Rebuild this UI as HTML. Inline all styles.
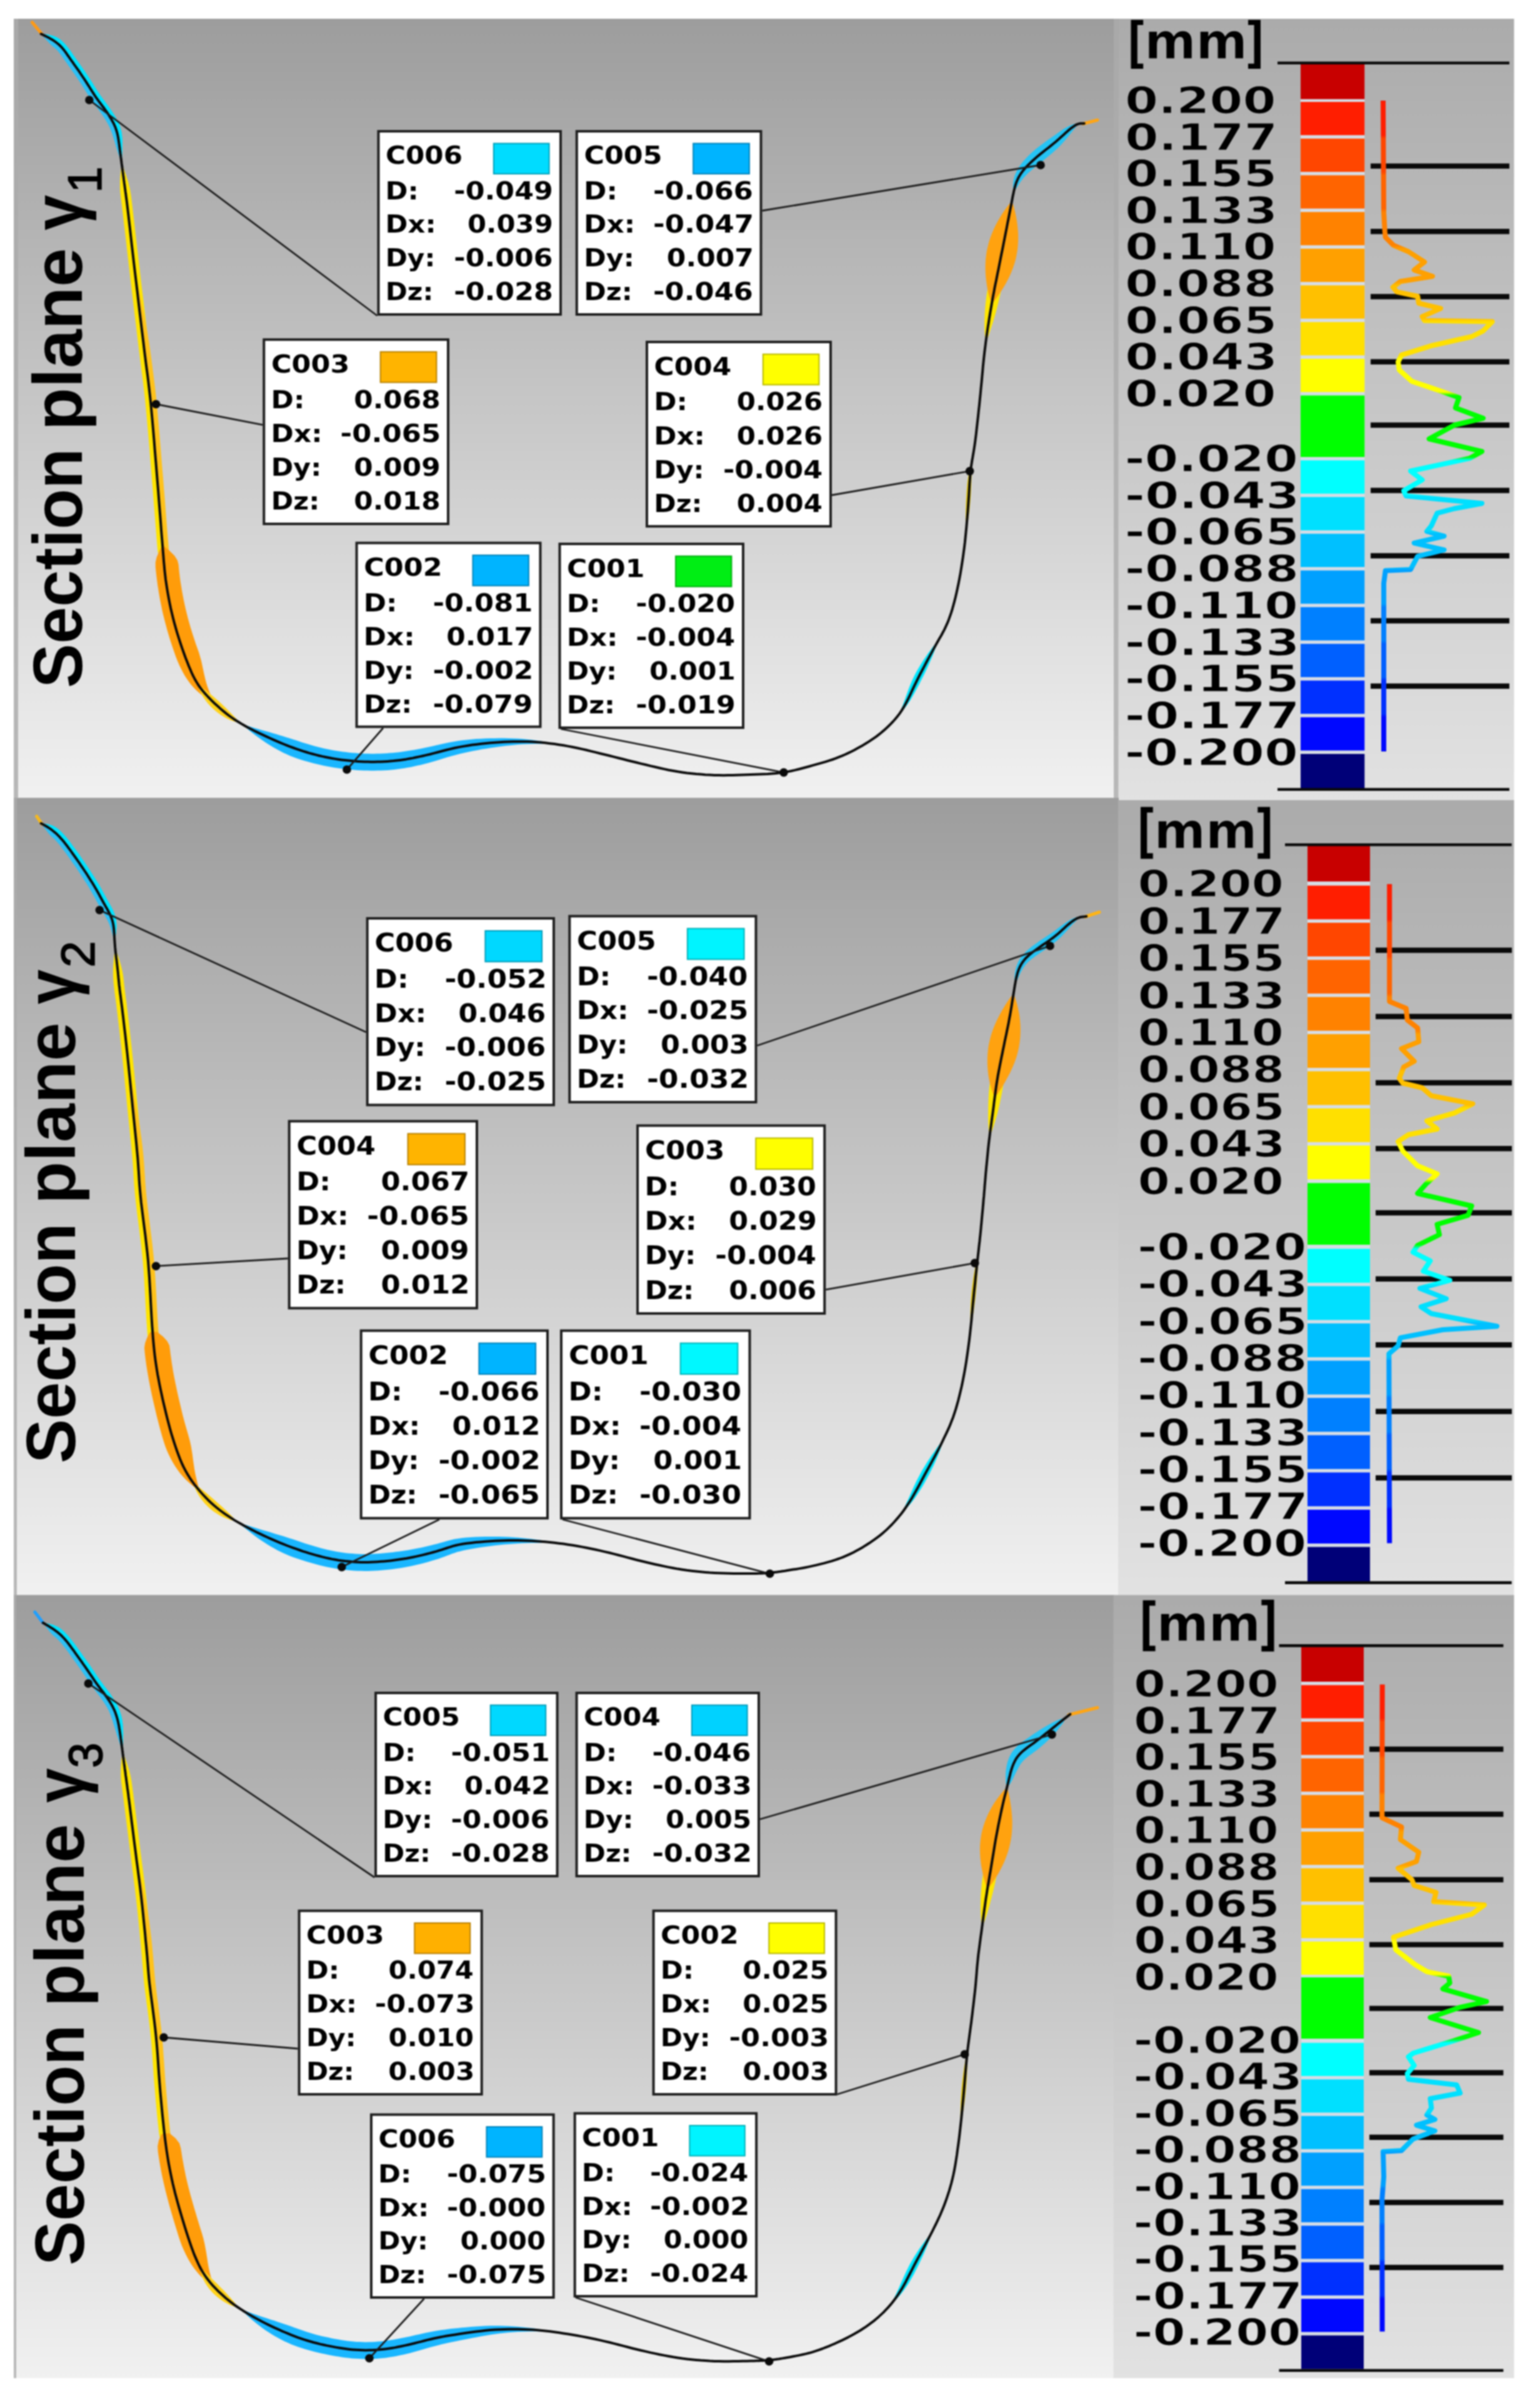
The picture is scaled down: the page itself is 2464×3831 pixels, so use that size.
<!DOCTYPE html><html><head><meta charset="utf-8"><title>Section planes</title>
<style>html,body{margin:0;padding:0;background:#fff}svg{display:block;filter:blur(0.9px)}text{font-weight:bold}.v{font-family:"DejaVu Sans","Liberation Sans",sans-serif}.t{font-family:"Liberation Sans","DejaVu Sans",sans-serif}</style></head><body>
<svg width="2464" height="3831" viewBox="0 0 2464 3831">
<defs>
<linearGradient id="gm" x1="0" y1="0" x2="0" y2="1"><stop offset="0" stop-color="#9d9d9d"/><stop offset="1" stop-color="#f1f1f1"/></linearGradient>
<linearGradient id="gl" x1="0" y1="0" x2="0" y2="1"><stop offset="0" stop-color="#ababab"/><stop offset="1" stop-color="#e2e2e2"/></linearGradient>
</defs>
<rect width="2464" height="3831" fill="#fff"/>
<linearGradient id="gs" x1="0" y1="0" x2="0" y2="1"><stop offset="0" stop-color="#a9a9a9"/><stop offset="1" stop-color="#b8b8b8"/></linearGradient>
<linearGradient id="gu0" gradientUnits="userSpaceOnUse" x1="0" y1="30" x2="0" y2="1279.8"><stop offset="0" stop-color="#ababab"/><stop offset="1" stop-color="#e2e2e2"/></linearGradient>
<linearGradient id="gu1" gradientUnits="userSpaceOnUse" x1="0" y1="1279.8" x2="0" y2="2551.3"><stop offset="0" stop-color="#ababab"/><stop offset="1" stop-color="#e2e2e2"/></linearGradient>
<linearGradient id="gu2" gradientUnits="userSpaceOnUse" x1="0" y1="2551.3" x2="0" y2="3804"><stop offset="0" stop-color="#ababab"/><stop offset="1" stop-color="#e2e2e2"/></linearGradient>
<rect x="22" y="30" width="1768.5" height="1246.2" fill="url(#gm)"/>
<rect x="1789.5" y="30" width="633" height="1249.8" fill="url(#gl)"/>
<rect x="22" y="30" width="7" height="1246.2" fill="url(#gs)"/>
<rect x="1782" y="30" width="7.5" height="1249.8" fill="url(#gs)"/>
<rect x="22" y="1276.2" width="1768" height="1275.1" fill="url(#gm)"/>
<rect x="1789" y="1279.8" width="633.5" height="1271.5" fill="url(#gl)"/>
<rect x="22" y="1276.2" width="5" height="1275.1" fill="url(#gs)"/>
<rect x="22" y="2551.3" width="1760.5" height="1252.7" fill="url(#gm)"/>
<rect x="1781.5" y="2551.3" width="641" height="1252.7" fill="url(#gl)"/>
<rect x="22" y="2551.3" width="4" height="1252.7" fill="url(#gs)"/>
<polygon points="65.7,54.3 67.3,54.4 69.4,54.6 72,54.8 74.9,55.1 77.9,55.6 80.8,56.2 83.7,56.9 86.2,57.7 88.4,58.7 90.4,59.6 92.3,60.6 94.2,61.7 96.1,63.1 97.9,64.6 99.8,66.2 101.8,68.2 103.9,70.3 106,72.7 108,75.3 110.1,77.9 112.1,80.6 114,83.3 115.8,86 117.6,88.6 119.4,91 121.1,93.5 122.9,96 124.6,98.5 126.4,101 128.2,103.5 130,106.1 131.8,108.7 133.6,111.3 135.4,113.9 137.3,116.6 139.1,119.3 140.9,122 142.7,124.8 144.5,127.5 146.3,130.3 148.1,133.1 149.9,136 151.7,138.9 153.5,141.8 155.3,144.7 157.1,147.4 158.9,150.1 160.7,152.7 162.4,155 164.1,157.4 165.7,159.6 167.4,161.9 169.2,164.2 170.9,166.5 172.7,168.9 174.5,171.4 176.5,174.2 178.5,177.2 180.5,180.3 182.5,183.4 184.4,186.6 186.2,189.7 187.8,192.8 189.3,195.7 190.4,198.2 191.4,200.7 192.2,203 192.9,205.1 193.5,207.3 194,209.5 194.5,211.8 194.9,214.3 195.2,216.9 195.5,219.7 195.7,222.5 195.8,225.3 195.8,228.1 195.8,231 195.8,233.8 195.7,236.5 195.6,239.3 195.5,242 195.4,244.8 195.3,247.5 195.2,250.3 195.1,253 194.9,255.8 194.8,258.6 194.6,261.3 194.6,261.3 193.7,258.7 192.8,256.1 191.9,253.5 191,250.8 190.1,248.2 189.2,245.6 188.3,243 187.5,240.3 186.6,237.7 185.8,235 185.1,232.4 184.3,229.7 183.5,227.1 182.8,224.5 182.1,222 181.3,219.6 180.6,217.4 180,215.4 179.3,213.5 178.7,211.8 178,210 177.4,208.4 176.6,206.5 175.7,204.6 174.8,202.5 173.6,200.1 172.2,197.5 170.6,194.7 168.9,191.8 167.1,188.9 165.2,186.1 163.3,183.3 161.5,180.7 159.7,178.3 158.1,176 156.4,173.8 154.7,171.5 152.9,169.2 151.2,166.9 149.4,164.4 147.6,161.8 145.7,159.1 143.8,156.2 141.9,153.3 140,150.4 138.2,147.4 136.3,144.5 134.5,141.7 132.8,138.9 131,136.2 129.3,133.5 127.5,130.8 125.8,128.2 124,125.6 122.2,122.9 120.4,120.4 118.7,117.8 116.9,115.2 115.1,112.7 113.4,110.2 111.6,107.7 109.8,105.3 108.1,102.8 106.3,100.3 104.5,97.7 102.7,95.2 100.9,92.6 99.1,90 97.3,87.5 95.5,85.2 93.7,83 92.1,81.1 90.5,79.5 89,78 87.6,76.8 86.1,75.6 84.8,74.5 83.5,73.4 82.1,72.1 80.6,70.7 79.2,69.3 77.6,67.6 75.7,65.6 73.8,63.5 71.8,61.3 69.9,59.2 68.2,57.2 66.8,55.5 65.7,54.3" fill="#2cc0f5"/>
<polygon points="65.7,54.3 67.3,54.4 69.4,54.6 72,54.8 74.9,55.1 77.9,55.6 80.8,56.2 83.7,56.9 86.2,57.7 88.4,58.7 90.4,59.6 92.3,60.6 94.2,61.7 96.1,63.1 97.9,64.6 99.8,66.2 101.8,68.2 103.9,70.3 106,72.7 108,75.3 110.1,77.9 112.1,80.6 114,83.3 115.8,86 117.6,88.6 119.4,91 121.1,93.5 122.9,96 124.6,98.5 126.4,101 128.2,103.5 130,106.1 131.8,108.7 133.6,111.3 135.4,113.9 137.3,116.6 139.1,119.3 140.9,122 142.7,124.8 144.5,127.5 146.3,130.3 148.1,133.1 149.9,136 151.7,138.9 153.5,141.8 155.3,144.7 157.1,147.4 158.9,150.1 160.7,152.7 162.4,155 164.1,157.4 165.7,159.6 167.4,161.9 169.2,164.2 170.9,166.5 172.7,168.9 174.5,171.4 176.5,174.2 178.5,177.2 180.5,180.3 182.5,183.4 184.4,186.6 186.2,189.7 187.8,192.8 189.3,195.7 190.4,198.2 191.4,200.7 192.2,203 192.9,205.1 193.5,207.3 194,209.5 194.5,211.8 194.9,214.3 195.2,216.9 195.5,219.7 195.7,222.5 195.8,225.3 195.8,228.1 195.8,231 195.8,233.8 195.7,236.5 195.6,239.3 195.5,242 195.4,244.8 195.3,247.5 195.2,250.3 195.1,253 194.9,255.8 194.8,258.6 194.6,261.3 194.6,261.3 194.3,258.6 193.9,255.9 193.6,253.2 193.2,250.5 192.9,247.8 192.5,245.2 192.2,242.5 191.8,239.8 191.5,237.1 191.1,234.4 190.8,231.6 190.4,228.9 190,226.1 189.6,223.4 189.2,220.8 188.7,218.2 188.2,215.8 187.7,213.5 187.1,211.4 186.5,209.4 185.9,207.4 185.2,205.5 184.5,203.4 183.5,201.2 182.5,198.9 181.2,196.2 179.6,193.4 178,190.4 176.1,187.4 174.2,184.3 172.3,181.3 170.3,178.5 168.4,175.8 166.6,173.3 164.9,171 163.2,168.7 161.5,166.4 159.7,164.1 158,161.8 156.3,159.4 154.5,157 152.7,154.3 150.9,151.6 149,148.7 147.2,145.8 145.3,142.9 143.5,140 141.7,137.2 139.9,134.4 138.2,131.6 136.4,128.9 134.6,126.2 132.8,123.5 131,120.8 129.2,118.2 127.5,115.5 125.7,112.9 123.9,110.4 122.1,107.8 120.3,105.3 118.5,102.8 116.8,100.3 115,97.9 113.2,95.4 111.5,92.9 109.7,90.3 107.8,87.7 106,85 104.1,82.4 102.2,79.9 100.2,77.5 98.4,75.4 96.5,73.5 94.7,71.8 93.1,70.3 91.4,69 89.8,67.7 88.2,66.6 86.5,65.4 84.8,64.3 82.9,63.1 80.8,61.9 78.4,60.6 76,59.3 73.4,58 71.1,56.9 68.9,55.8 67,54.9 65.7,54.3" fill="#00e4ff"/>
<polygon points="194.6,261.3 195.6,263.9 196.6,266.5 197.6,269.1 198.6,271.7 199.5,274.3 200.5,276.8 201.4,279.5 202.2,282 203,284.4 203.8,286.8 204.5,289.3 205.3,291.8 206,294.5 206.7,297.4 207.4,300.4 208.1,303.3 208.5,305.7 208.9,308 209.3,310.5 209.8,313.8 210.3,317.9 211,323.5 211.9,331 213,340.4 214.3,351.5 215.7,363.6 217.2,377.1 218.9,391.4 220.6,405.9 222.3,420.6 224,435.1 225.7,449.9 227.6,465.8 229.6,482.3 231.6,498.9 233.6,515.4 235.5,531.3 237.3,546.4 239,560.2 240.4,572 241.8,582.4 243,591.9 244.2,601 245.3,610.1 246.5,619.6 247.7,630.2 248.9,642 250.3,655.9 251.6,671 253,686.9 254.4,703.5 255.8,720.1 257.2,736.6 258.5,752.5 259.7,767.3 260.8,781.6 262,795.8 263.1,809.9 264.1,823.5 265.1,836.4 266.1,848.8 267.1,860.4 268,871.4 268.7,881.1 268.5,889.9 267.2,897.8 265.4,905.3 263.4,912.6 263.4,912.6 260,905.8 256.8,898.7 254.1,891.1 252.4,882.5 251.5,872.7 250.6,861.8 249.7,850.1 248.7,837.7 247.7,824.8 246.6,811.2 245.5,797.1 244.4,782.9 243.2,768.7 242,753.8 240.7,737.9 239.4,721.5 238,704.8 236.6,688.4 235.2,672.5 233.8,657.4 232.5,643.7 231.3,631.9 230.1,621.6 229,612.1 227.8,603.1 226.6,594 225.4,584.5 224.1,574 222.6,562.2 220.9,548.4 219.1,533.3 217.2,517.4 215.2,500.9 213.2,484.2 211.2,467.8 209.3,451.8 207.6,437 205.9,422.5 204.2,407.8 202.5,393.2 200.9,378.9 199.3,365.5 197.9,353.4 196.6,342.3 195.5,333 194.6,325.5 193.9,320 193.4,315.9 193,312.7 192.7,310.2 192.5,307.9 192.3,305.4 192.1,302.5 192,299.4 192,296.4 192,293.7 192,291 192.1,288.4 192.2,285.9 192.4,283.3 192.6,280.6 192.8,277.9 193.1,275.1 193.4,272.4 193.7,269.6 194,266.8 194.3,264.1 194.6,261.3" fill="#ffe400"/>
<polygon points="216,436 219.3,450.7 222.8,466.4 226.3,482.7 229.7,499.2 232.9,515.5 235.8,531.3 238.2,546.3 240.3,560 241.9,571.8 243.3,582.2 244.5,591.7 245.7,600.8 246.8,609.9 248,619.5 249.2,630 250.4,641.9 251.8,655.7 253.1,670.9 254.5,686.8 255.9,703.3 257.3,720 258.6,736.5 259.9,752.4 261.2,767.2 262.3,781.5 263.5,795.7 264.6,809.8 265.6,823.4 266.6,836.3 267.6,848.7 268.6,860.3 269.5,871.2 270.3,881 270.9,889.7 269.8,897.6 267,905.2 263.4,912.6 263.4,912.6 262.8,905.6 262.1,898.3 261.5,890.5 260.8,881.8 260,872 259.1,861.1 258.1,849.4 257.2,837 256.2,824.1 255.1,810.5 254,796.4 252.9,782.2 251.7,768 250.5,753.1 249.2,737.2 247.8,720.8 246.5,704.1 245.1,687.6 243.7,671.7 242.3,656.6 241,642.8 239.7,631 238.5,620.6 237.4,611.1 236.3,602 235.1,592.9 233.8,583.4 232.5,573 231,561.2 229.4,547.4 227.5,532.3 225.6,516.4 223.6,499.9 221.6,483.2 219.7,466.8 217.8,450.8 216,436" fill="#ffc21a"/>
<polygon points="260,872 271.2,880.9 279.3,889 284,896.4 285.7,903.5 286.3,910.3 287,916.8 287.8,923.5 288.8,930.7 290,938.1 291.2,945.5 292.6,952.9 294,960.3 295.6,967.8 297.3,975.2 299.1,982.6 301,990 303.1,997.6 305.4,1005.5 307.9,1013.5 310.5,1021.5 313.1,1029.4 315.8,1036.9 318.3,1044.1 320.3,1050.9 322,1057.1 323.3,1062.8 324.4,1067.9 325.4,1072.8 326.4,1077.5 327.5,1082.3 328.7,1087.2 330.1,1092.5 332,1098.4 334.3,1104.7 337,1111.3 340.1,1118.2 343.2,1125 343.2,1125 337.1,1121.3 330.8,1117.2 324.9,1113.1 319.3,1108.7 314.2,1104.2 309.8,1099.7 305.8,1095.2 302.2,1090.6 298.9,1085.8 295.8,1080.9 292.8,1075.7 289.9,1070.1 286.9,1063.9 283.9,1057 281,1049.5 278.2,1041.5 275.4,1033.2 272.6,1024.7 270,1016.2 267.5,1007.8 265.3,999.6 263.2,991.6 261.2,983.6 259.4,975.7 257.8,967.7 256.2,959.8 254.8,951.9 253.5,944 252.2,936 251.2,928.3 250.3,921.1 249.5,914 248.8,906.8 248.8,899.4 250.6,891.4 254.5,882.3 260,872" fill="#ff9c0a"/>
<polygon points="316.9,1095 322.1,1098.4 327,1102.4 332.2,1106.6 337.4,1110.9 342.8,1115.4 348,1119.9 353,1124.4 357.7,1128.9 361.9,1133 365.7,1136.9 369.3,1140.6 372.7,1144.1 376,1147.6 379.3,1151.1 382.2,1155.3 382.2,1155.3 377,1154.7 372.2,1153.3 367.6,1151.4 362.8,1149.2 358.1,1146.6 353.2,1143.5 348.1,1139.8 342.9,1135.5 337.8,1130.7 332.9,1125.5 328.3,1119.6 324.2,1113.7 320.8,1107.5 318.1,1101.3 316.9,1095" fill="#ffd21a"/>
<polygon points="386.5,1157.9 391.5,1159.6 396.8,1161.3 402.3,1163 408,1164.7 413.6,1166.3 419.3,1167.9 425,1169.5 430.7,1171.1 436.2,1172.7 441.7,1174.3 447.1,1175.9 452.4,1177.5 457.7,1179.2 462.9,1180.8 468.1,1182.4 473.2,1184.1 478.3,1185.7 483.3,1187.4 488.4,1189 493.5,1190.6 498.5,1192.1 503.5,1193.5 508.5,1194.8 513.5,1196.1 518.5,1197.2 523.5,1198.3 528.4,1199.3 533.4,1200.2 538.4,1201 543.4,1201.8 548.3,1202.5 553.4,1203.1 558.4,1203.7 563.4,1204.2 568.5,1204.6 573.5,1205 578.6,1205.3 583.6,1205.5 588.7,1205.6 593.7,1205.7 598.7,1205.7 603.7,1205.6 608.6,1205.5 613.6,1205.2 618.5,1205 623.4,1204.6 628.4,1204.2 633.3,1203.7 638.3,1203.2 643.3,1202.5 648.2,1201.8 653,1201.1 657.9,1200.3 663,1199.4 668.2,1198.4 673.6,1197.4 679.3,1196.2 685.2,1195 691.2,1193.7 697.5,1192.2 704.1,1190.7 710.9,1189.2 717.9,1187.7 725,1186.4 732.1,1185.3 739.3,1184.3 746.7,1183.5 754.1,1182.7 761.5,1182.1 769,1181.7 776.6,1181.3 784,1181 791.5,1180.9 798.9,1180.8 806.3,1180.8 813.8,1181 821.2,1181.2 828.7,1181.6 836.1,1182.1 843.5,1182.7 850.8,1183.5 858.2,1184.5 865.5,1185.6 872.7,1186.8 880,1188.1 887.2,1189.6 894.4,1191.2 894.4,1191.2 887,1190.7 879.7,1190.3 872.4,1190 865.1,1189.8 857.8,1189.8 850.5,1189.9 843.3,1190.2 836,1190.6 828.7,1191.1 821.5,1191.8 814.2,1192.5 807,1193.3 799.7,1194.2 792.6,1195.2 785.4,1196.2 778.1,1197.4 770.9,1198.6 763.8,1199.9 756.6,1201.2 749.6,1202.7 742.8,1204.2 736.1,1205.7 729.6,1207.4 723,1209.2 716.5,1211.1 710,1213.1 703.6,1215.1 697.2,1217 691.1,1218.8 685,1220.5 679.1,1222 673.5,1223.4 668.1,1224.6 662.8,1225.8 657.6,1226.9 652.4,1227.8 647.2,1228.7 641.8,1229.6 636.4,1230.3 631,1230.9 625.7,1231.4 620.3,1231.9 615,1232.2 609.6,1232.4 604.3,1232.6 598.9,1232.7 593.5,1232.7 588.1,1232.6 582.6,1232.5 577.2,1232.2 571.8,1231.9 566.4,1231.5 560.9,1231.1 555.5,1230.5 550.2,1229.9 544.8,1229.2 539.4,1228.5 534.1,1227.7 528.7,1226.8 523.3,1225.8 517.9,1224.7 512.6,1223.5 507.2,1222.3 501.8,1221 496.4,1219.5 491,1218 485.6,1216.4 480.2,1214.7 474.8,1212.9 469.4,1211 464.1,1208.9 458.8,1206.6 453.6,1204.2 448.5,1201.6 443.4,1198.8 438.4,1196 433.4,1193 428.5,1189.9 423.6,1186.7 418.6,1183.3 413.7,1179.8 408.8,1176.2 404,1172.6 399.2,1168.8 394.8,1165.1 390.5,1161.4 386.5,1157.9" fill="#19b6ff"/>
<polygon points="1439.2,1141.6 1441.4,1135.8 1443.8,1129.8 1446.2,1123.3 1448.6,1116.5 1451.1,1109.5 1453.7,1102.3 1456.5,1095.2 1459.5,1088.3 1462.6,1081.7 1465.9,1075.3 1469.5,1069 1473.1,1062.9 1477,1056.8 1480.9,1051 1484.8,1045.3 1488.8,1039.9 1492.6,1034.8 1496.5,1030.1 1500.6,1025.8 1500.6,1025.8 1498.8,1031.4 1496.7,1037.1 1494.4,1043 1492,1049.2 1489.3,1055.5 1486.5,1061.9 1483.6,1068.4 1480.5,1074.9 1477.4,1081.3 1474.2,1087.5 1471,1093.9 1467.5,1100.5 1464,1107.1 1460.2,1113.8 1456.3,1120.4 1452.2,1126.5 1448,1132.3 1443.7,1137.3 1439.2,1141.6" fill="#00e6ff"/>
<polygon points="1545.5,851.2 1545.1,843 1545,834.8 1545.1,826.6 1545.2,818.3 1545.4,809.9 1545.7,801.2 1546.2,792.4 1546.8,783.6 1547.5,775 1548.5,766.7 1549.6,758.9 1550.8,751.7 1552.2,745.6 1553.4,740.5 1554.7,736 1556.2,731.9 1556.2,731.9 1555.9,736.2 1555.6,740.9 1555.2,746 1554.9,752.2 1554.6,759.3 1554.3,767.1 1554,775.4 1553.6,784 1553.2,792.8 1552.5,801.7 1551.7,810.4 1550.8,818.8 1549.7,826.9 1548.5,835.1 1547.2,843.1 1545.5,851.2" fill="#e8c800"/>
<polygon points="1577.5,545.3 1576.1,539.2 1575.6,533.3 1575.3,527.3 1575.2,521.2 1575.2,514.9 1575.4,508.7 1575.6,502.4 1576,496.2 1576.5,490 1577.1,483.8 1577.8,477.7 1578.6,471.5 1579.6,465.3 1580.6,459.1 1581.8,453 1583,446.9 1584.4,440.8 1585.8,434.8 1587.3,428.7 1588.9,422.7 1590.5,416.7 1592.3,410.8 1594.1,404.8 1596,398.9 1598,392.9 1600.1,387 1602.3,381.1 1604.7,375.3 1607.3,369.3 1610.9,363.4 1610.9,363.4 1611.9,370.2 1612.1,376.7 1612,383 1611.8,389.3 1611.5,395.6 1611.1,401.9 1610.6,408.1 1610,414.3 1609.3,420.5 1608.5,426.7 1607.6,432.8 1606.7,439 1605.6,445.1 1604.5,451.2 1603.3,457.3 1602.1,463.3 1600.8,469.3 1599.4,475.3 1598,481.3 1596.5,487.3 1595,493.2 1593.4,499.2 1591.8,505.1 1590.1,511 1588.3,516.9 1586.4,522.8 1584.5,528.6 1582.6,534.3 1580.5,539.8 1577.5,545.3" fill="#ffe600"/>
<polygon points="1586.8,485.6 1584.1,478.8 1582.2,472.1 1580.7,465.5 1579.4,458.9 1578.4,452.3 1577.6,445.8 1577,439.3 1576.7,432.9 1576.6,426.6 1576.8,420.3 1577.2,414.1 1577.9,407.9 1578.8,401.8 1580.1,395.7 1581.6,389.7 1583.3,383.7 1585.4,377.8 1587.7,371.9 1590.3,366 1593.2,359.9 1596.4,353.9 1599.9,347.9 1603.5,342 1607.3,336.4 1611,331.2 1614.8,326.4 1618.9,322.1 1618.9,322.1 1621.1,327.6 1622.8,333.5 1624.3,339.7 1625.7,346.4 1626.9,353.1 1627.8,360 1628.5,366.8 1629,373.6 1629.1,380.1 1629,386.4 1628.6,392.7 1628,398.9 1627,405.1 1625.9,411.1 1624.4,417.2 1622.6,423.2 1620.6,429.1 1618.3,435 1615.8,440.8 1613,446.6 1610,452.3 1606.7,458 1603.3,463.6 1599.7,469.1 1595.8,474.7 1591.7,480.2 1586.8,485.6" fill="#ffa20f"/>
<polygon points="1622.3,305.2 1620.9,301.1 1620.8,297.2 1621,293.5 1621.4,290.2 1621.9,287.2 1622.6,284.4 1623.3,281.8 1624.2,279.3 1625.3,276.7 1626.6,273.9 1628.2,270.8 1630.2,267.6 1632.4,264.3 1634.9,261 1637.5,257.8 1640.4,254.5 1643.5,251.2 1646.7,247.9 1650.1,244.7 1653.8,241.4 1657.8,238 1662,234.7 1666.3,231.4 1670.7,228.2 1675,225.1 1679.3,222.1 1683.3,219.3 1687.4,216.4 1691.7,213.3 1696.2,210.2 1700.7,207.1 1705.2,204.3 1709.6,202 1713.7,200.1 1717.4,198.7 1720.8,198 1724.2,198.6 1724.2,198.6 1722.6,201.4 1720.7,203.8 1718.5,206.6 1715.9,209.9 1713,213.4 1709.9,217.4 1706.5,221.5 1703,225.7 1699.3,229.8 1695.6,233.7 1691.8,237.4 1687.8,241.1 1683.7,244.7 1679.5,248.2 1675.4,251.6 1671.5,254.8 1667.6,257.9 1664.1,260.7 1660.7,263.5 1657.4,266.2 1654.3,268.8 1651.3,271.3 1648.6,273.7 1646,276 1643.6,278.3 1641.4,280.5 1639.5,282.4 1637.8,284.3 1636.4,286 1635.1,287.7 1633.7,289.5 1632.4,291.4 1630.9,293.7 1629.3,296.2 1627.4,299.2 1625.4,302.2 1622.3,305.2" fill="#25c4f5"/>
<polygon points="65.7,1317.1 67.3,1317.3 69.6,1317.5 72.3,1317.8 75.2,1318.2 78.3,1318.8 81.5,1319.7 84.4,1320.8 86.9,1322.1 89.1,1323.4 91.1,1324.7 93,1326.1 94.9,1327.7 96.8,1329.5 98.6,1331.3 100.5,1333.2 102.4,1335.2 104.3,1337.4 106.2,1339.6 108.1,1341.9 110,1344.3 111.9,1346.8 113.8,1349.2 115.6,1351.7 117.4,1354.2 119.2,1356.6 121,1359.1 122.8,1361.6 124.6,1364.1 126.4,1366.6 128.2,1369.2 130,1371.8 131.8,1374.4 133.6,1377 135.4,1379.6 137.3,1382.3 139.1,1385 140.9,1387.7 142.7,1390.4 144.4,1393.1 146.2,1395.9 148.1,1398.8 149.9,1401.6 151.8,1404.6 153.6,1407.5 155.5,1410.5 157.3,1413.4 159,1416.4 160.7,1419.3 162.3,1422.1 163.8,1424.9 165.4,1427.7 166.8,1430.4 168.3,1433.1 169.7,1435.7 171.1,1438.2 172.4,1440.6 173.7,1442.9 175,1445.2 176.3,1447.4 177.5,1449.6 178.7,1451.9 179.8,1454 180.9,1456.2 181.8,1458.4 182.7,1460.5 183.4,1462.4 184,1464.4 184.6,1466.3 185,1468.1 185.5,1470.1 185.8,1472.3 186.1,1474.6 186.3,1477.2 186.4,1479.9 186.4,1482.7 186.2,1485.6 186,1488.5 185.7,1491.4 185.3,1494.2 184.9,1497 184.5,1499.7 184.2,1502.4 183.8,1505.2 183,1505.2 182.2,1502.5 181.4,1499.9 180.7,1497.3 179.9,1494.6 179.1,1491.8 178.4,1489.1 177.6,1486.4 176.8,1483.9 176,1481.5 175.2,1479.3 174.4,1477.3 173.6,1475.5 172.9,1473.9 172.2,1472.5 171.5,1471.1 170.7,1469.7 169.9,1468.3 169.1,1466.8 168.1,1465.1 167,1463.3 165.9,1461.5 164.8,1459.5 163.6,1457.5 162.4,1455.3 161.1,1453.1 159.8,1450.8 158.4,1448.4 157,1445.9 155.6,1443.3 154.2,1440.7 152.8,1438 151.3,1435.3 149.8,1432.6 148.3,1429.9 146.8,1427.2 145.2,1424.5 143.5,1421.7 141.8,1418.8 140.1,1416 138.3,1413.1 136.4,1410.2 134.6,1407.4 132.8,1404.6 131,1401.9 129.3,1399.2 127.5,1396.5 125.8,1393.9 124,1391.3 122.2,1388.6 120.4,1386 118.7,1383.5 116.9,1380.9 115.1,1378.4 113.4,1375.9 111.6,1373.4 109.8,1370.9 108,1368.5 106.3,1366 104.5,1363.6 102.8,1361.2 101,1358.9 99.2,1356.5 97.4,1354.2 95.7,1352 93.9,1349.8 92.2,1347.9 90.6,1346 88.9,1344.2 87.3,1342.6 85.8,1341.1 84.2,1339.7 82.7,1338.3 81.1,1336.9 79.6,1335.3 78.1,1333.6 76.6,1331.7 75,1329.6 73.2,1327.3 71.4,1324.9 69.7,1322.5 68,1320.4 66.7,1318.5 65.7,1317.1" fill="#2cc0f5"/>
<polygon points="65.7,1317.1 67.3,1317.3 69.6,1317.5 72.3,1317.8 75.2,1318.2 78.3,1318.8 81.5,1319.7 84.4,1320.8 86.9,1322.1 89.1,1323.4 91.1,1324.7 93,1326.1 94.9,1327.7 96.8,1329.5 98.6,1331.3 100.5,1333.2 102.4,1335.2 104.3,1337.4 106.2,1339.6 108.1,1341.9 110,1344.3 111.9,1346.8 113.8,1349.2 115.6,1351.7 117.4,1354.2 119.2,1356.6 121,1359.1 122.8,1361.6 124.6,1364.1 126.4,1366.6 128.2,1369.2 130,1371.8 131.8,1374.4 133.6,1377 135.4,1379.6 137.3,1382.3 139.1,1385 140.9,1387.7 142.7,1390.4 144.4,1393.1 146.2,1395.9 148.1,1398.8 149.9,1401.6 151.8,1404.6 153.6,1407.5 155.5,1410.5 157.3,1413.4 159,1416.4 160.7,1419.3 162.3,1422.1 163.8,1424.9 165.4,1427.7 166.8,1430.4 168.3,1433.1 169.7,1435.7 171.1,1438.2 172.4,1440.6 173.7,1442.9 175,1445.2 176.3,1447.4 177.5,1449.6 178.7,1451.9 179.8,1454 180.9,1456.2 181.8,1458.4 182.7,1460.5 183.4,1462.4 184,1464.4 184.6,1466.3 185,1468.1 185.5,1470.1 185.8,1472.3 186.1,1474.6 186.3,1477.2 186.4,1479.9 186.4,1482.7 186.2,1485.6 186,1488.5 185.7,1491.4 185.3,1494.2 184.9,1497 184.5,1499.7 184.2,1502.4 183.8,1505.2 183.4,1505.2 183.2,1502.5 183.1,1499.8 182.9,1497.1 182.8,1494.4 182.6,1491.6 182.4,1488.8 182.2,1486 181.9,1483.2 181.5,1480.6 181.1,1478.2 180.6,1475.9 180.1,1473.8 179.6,1471.9 179,1470.2 178.4,1468.5 177.8,1466.9 177.1,1465.2 176.3,1463.5 175.4,1461.6 174.4,1459.6 173.3,1457.5 172.2,1455.5 171,1453.3 169.7,1451.1 168.5,1448.9 167.2,1446.6 165.8,1444.2 164.5,1441.8 163.1,1439.2 161.7,1436.6 160.2,1434 158.8,1431.2 157.3,1428.5 155.7,1425.7 154.2,1423 152.5,1420.2 150.8,1417.3 149.1,1414.4 147.3,1411.5 145.4,1408.6 143.6,1405.7 141.8,1402.8 140,1400 138.2,1397.2 136.4,1394.5 134.6,1391.8 132.8,1389.2 131,1386.5 129.2,1383.9 127.5,1381.2 125.7,1378.6 123.9,1376.1 122.1,1373.5 120.3,1371 118.5,1368.5 116.7,1366 114.9,1363.5 113.2,1361 111.4,1358.6 109.6,1356.2 107.8,1353.8 105.9,1351.3 104.1,1348.9 102.3,1346.6 100.4,1344.4 98.6,1342.3 96.8,1340.3 95.1,1338.4 93.3,1336.6 91.6,1334.9 89.9,1333.3 88.2,1331.8 86.4,1330.4 84.7,1329 82.8,1327.5 80.7,1325.9 78.4,1324.4 75.9,1322.8 73.4,1321.3 71.1,1320 68.9,1318.8 67,1317.8 65.7,1317.1" fill="#00e4ff"/>
<polygon points="184.2,1515.9 185.1,1518.6 186,1521.1 186.9,1523.7 187.8,1526.3 188.7,1528.9 189.6,1531.5 190.5,1534.1 191.3,1536.8 192.1,1539.4 192.9,1542 193.6,1544.7 194.3,1547.3 195,1550 195.5,1552.6 196.1,1555.3 196.6,1558 197,1560.6 197.4,1563.2 197.7,1565.8 198,1568.3 198.2,1570.9 198.5,1573.4 198.8,1576.1 199.1,1579 199.5,1582 199.8,1585 200.2,1587.6 200.5,1590.3 200.9,1593.2 201.3,1596.4 201.9,1600.4 202.5,1605.1 203.2,1611 204.1,1618.1 205,1626 206.1,1635 207.2,1644.5 208.3,1654.5 209.4,1664.6 210.6,1674.8 211.6,1684.8 212.7,1694.7 213.7,1704.9 214.8,1715.3 215.8,1725.8 216.9,1736.4 217.9,1747 218.9,1757.6 220,1768 221,1778.5 222.1,1789.3 223.2,1800.1 224.3,1810.9 225.4,1821.5 226.4,1831.8 227.4,1841.9 228.2,1851.3 228.9,1859.8 229.4,1867.1 229.9,1874 230.3,1880.7 230.7,1887.5 231.2,1894.6 231.8,1902.7 232.7,1912.2 233.9,1923.1 235.3,1935 236.9,1947.7 238.6,1961.2 240.4,1975.1 242.1,1989.1 243.6,2003.1 244.9,2016.3 246,2029.5 247,2043.5 247.8,2057.4 248.6,2071.4 249.3,2084.8 250,2097.5 250.7,2109.5 251.4,2120.5 252.1,2130.2 252.8,2138.8 253.5,2146.5 254.1,2153.8 254.7,2160.7 254.6,2167.6 253.8,2174.8 252.5,2182.6 246.7,2183.5 243.1,2176.3 240.4,2169.3 238.6,2162.4 237.7,2155.4 237,2148 236.4,2140.2 235.7,2131.4 235,2121.6 234.2,2110.5 233.5,2098.4 232.8,2085.7 232.1,2072.2 231.3,2058.3 230.5,2044.6 229.6,2030.7 228.5,2017.8 227.2,2004.8 225.7,1991 224,1977.2 222.3,1963.2 220.5,1949.8 218.9,1937 217.5,1925 216.3,1913.8 215.4,1904.2 214.7,1895.8 214.2,1888.5 213.8,1881.7 213.4,1875 213,1868.2 212.5,1861 211.8,1852.7 211,1843.4 210,1833.4 209,1823.2 207.9,1812.6 206.8,1801.8 205.7,1791 204.6,1780.2 203.5,1769.6 202.5,1759.2 201.5,1748.6 200.4,1738 199.4,1727.4 198.4,1717 197.3,1706.6 196.3,1696.4 195.2,1686.5 194.2,1676.6 193,1666.4 191.9,1656.3 190.8,1646.4 189.7,1636.9 188.6,1628 187.7,1620 186.8,1613 186.1,1607.2 185.5,1602.6 185,1598.6 184.5,1595.4 184.1,1592.4 183.8,1589.7 183.4,1587 183.1,1583.9 182.7,1580.8 182.4,1577.9 182.1,1575.1 181.8,1572.5 181.6,1569.9 181.4,1567.4 181.2,1564.8 181.1,1562.2 181,1559.5 181,1556.8 181,1554.1 181,1551.4 181.1,1548.8 181.2,1546.1 181.4,1543.4 181.6,1540.7 181.8,1537.9 182,1535.2 182.2,1532.5 182.5,1529.7 182.8,1526.9 183.1,1524.2 183.4,1521.4 183.8,1518.7 184.2,1515.9" fill="#ffe400"/>
<polygon points="207.6,1716 209.7,1726.4 211.8,1736.9 213.8,1747.4 215.8,1757.9 217.8,1768.2 219.6,1778.7 221.5,1789.3 223.2,1800.1 224.9,1810.9 226.4,1821.4 227.7,1831.7 228.8,1841.7 229.7,1851.2 230.4,1859.7 230.9,1867 231.3,1873.9 231.8,1880.6 232.2,1887.4 232.7,1894.5 233.3,1902.6 234.2,1912 235.4,1922.9 236.8,1934.8 238.4,1947.5 240.1,1961 241.9,1975 243.6,1988.9 245.1,2002.9 246.4,2016.1 247.5,2029.4 248.5,2043.4 249.3,2057.3 250.1,2071.3 250.8,2084.7 251.5,2097.4 252.2,2109.4 252.9,2120.4 253.6,2130 254.3,2138.7 255,2146.4 255.6,2153.6 256.3,2160.5 257.1,2167.3 256.5,2174.4 254.2,2182.3 249.7,2183 248.6,2175.5 247.7,2168.4 246.9,2161.5 246.2,2154.5 245.5,2147.2 244.8,2139.5 244.2,2130.8 243.4,2121 242.7,2110 242,2097.9 241.3,2085.3 240.6,2071.8 239.8,2057.8 239,2044 238,2030.1 237,2017 235.7,2003.9 234.1,1990 232.5,1976.1 230.7,1962.2 229,1948.7 227.4,1936 225.9,1924 224.8,1913 223.9,1903.4 223.2,1895.2 222.7,1888 222.3,1881.2 221.9,1874.5 221.4,1867.7 220.9,1860.4 220.3,1852 219.4,1842.6 218.5,1832.6 217.5,1822.3 216.4,1811.7 215.3,1800.9 214.2,1790.1 213.1,1779.3 212,1768.8 211,1758.4 209.9,1747.8 208.9,1737.2 207.9,1726.6 206.8,1716.1" fill="#ffc21a"/>
<polygon points="251,2130.2 260.9,2138.1 267.5,2145.3 271,2152.1 272,2158.8 272.8,2165.4 273.7,2172.1 274.7,2179.3 275.9,2186.7 277.1,2194.2 278.5,2201.7 280,2209.3 281.6,2216.9 283.2,2224.5 284.9,2232.2 286.7,2239.9 288.5,2247.6 290.4,2255.5 292.3,2263.4 294.3,2271.1 296.4,2278.8 298.5,2286.1 300.6,2293.3 302.6,2300.2 304.3,2306.9 305.7,2313.5 306.8,2320 307.8,2326.2 308.6,2332.4 309.4,2338.4 310.3,2344.6 311.2,2350.8 312.4,2357.3 313.9,2364 315.6,2371 317.5,2378 319.7,2384.9 319.5,2385.1 313.9,2381 308.2,2376.5 302.7,2371.8 297.5,2366.9 292.6,2361.7 288.1,2356.4 283.9,2350.8 280,2345.1 276.4,2339.1 273,2332.8 269.9,2326.4 266.9,2319.7 264.2,2312.7 261.8,2305.3 259.4,2297.6 257.2,2289.6 255,2281.5 252.9,2273.3 250.8,2265.2 248.9,2257 247,2249.1 245.2,2241.2 243.4,2233.2 241.7,2225.3 240.1,2217.3 238.5,2209.3 237.1,2201.3 235.7,2193.3 234.4,2185.3 233.3,2177.6 232.4,2170.3 231.6,2163.2 231,2156 232.1,2148.4 235.1,2140.3 240,2131.1" fill="#ff9c0a"/>
<polygon points="311.7,2373.9 317.5,2378 322.8,2382.2 328,2386.4 332.8,2390.5 337.5,2394.5 342,2398.4 346.3,2402.2 350.6,2406 354.9,2409.8 359.1,2413.7 363.3,2417.6 367.5,2421.7 371.7,2425.9 375.8,2430.4 374.3,2432.8 368.2,2431.2 362.5,2429.1 357,2426.7 351.6,2423.9 346.4,2420.8 341.4,2417.4 336.5,2413.6 331.9,2409.3 327.5,2404.7 323.3,2399.6 319.4,2394.2 315.8,2388.2 312.7,2381.9 310.2,2375" fill="#ffd21a"/>
<polygon points="385.8,2436.9 391.6,2438.8 397.4,2440.6 403.1,2442.3 408.8,2444 414.5,2445.7 420.1,2447.4 425.6,2449 431.1,2450.6 436.5,2452.3 441.9,2453.9 447.2,2455.5 452.5,2457.1 457.8,2458.8 463,2460.4 468.2,2462.1 473.3,2463.8 478.4,2465.5 483.4,2467.2 488.5,2468.9 493.5,2470.5 498.7,2472.1 503.7,2473.6 508.8,2475.1 513.8,2476.5 518.9,2477.8 523.8,2479 528.8,2480.1 533.7,2481.1 538.7,2482 543.6,2482.8 548.5,2483.6 553.5,2484.2 558.5,2484.7 563.4,2485.1 568.4,2485.5 573.3,2485.7 578.3,2485.9 583.2,2485.9 588.2,2485.9 593.1,2485.7 598.1,2485.5 603.1,2485.2 608.1,2484.9 613.1,2484.5 618.2,2484 623.2,2483.5 628.3,2482.9 633.3,2482.3 638.3,2481.7 643.4,2481 648.4,2480.2 653.4,2479.4 658.5,2478.5 663.6,2477.6 668.8,2476.5 674.3,2475.4 679.6,2474.2 684.8,2473 690,2471.8 694.8,2470.6 699.3,2469.5 703.5,2468.3 707.2,2467.3 710.7,2466.2 714.1,2465.2 717.8,2464.2 721.9,2463.2 726.6,2462.1 732,2461.2 738.4,2460.3 745.3,2459.6 752.7,2459 760.5,2458.6 768.3,2458.3 776.3,2458 784.1,2457.9 791.7,2457.9 799,2458.1 806.5,2458.3 813.9,2458.6 821.3,2459 828.7,2459.6 836.1,2460.2 843.5,2460.9 850.8,2461.7 858.2,2462.7 865.4,2463.7 872.7,2464.8 880,2466 887.2,2467.3 887.1,2468.3 879.7,2468.1 872.4,2467.9 865.1,2467.9 857.8,2467.9 850.5,2468 843.2,2468.2 835.9,2468.5 828.6,2468.9 821.3,2469.4 814.1,2470 806.8,2470.6 799.6,2471.3 792.4,2472.1 785,2473 777.5,2474 769.8,2475.1 762.3,2476.3 754.9,2477.5 748,2478.8 741.6,2480.1 736.1,2481.4 731.5,2482.6 727.6,2483.9 724.2,2485.1 720.9,2486.3 717.8,2487.5 714.3,2488.8 710.5,2490.3 706.2,2491.8 701.4,2493.4 696.3,2495 691,2496.6 685.7,2498.2 680.2,2499.7 674.5,2501.2 669,2502.6 663.6,2503.8 658.2,2505 652.9,2506.1 647.6,2507 642.3,2508 636.9,2508.8 631.6,2509.5 626.2,2510.2 620.9,2510.8 615.6,2511.3 610.2,2511.8 604.8,2512.2 599.5,2512.5 594,2512.7 588.6,2512.9 583.2,2512.9 577.7,2512.8 572.2,2512.7 566.8,2512.4 561.3,2512 555.9,2511.6 550.4,2511 545,2510.3 539.5,2509.5 534,2508.6 528.5,2507.6 523.1,2506.5 517.6,2505.3 512.3,2503.9 506.9,2502.5 501.5,2501.1 496.1,2499.5 490.8,2497.9 485.4,2496.3 480.1,2494.6 474.7,2492.8 469.4,2490.9 464.1,2488.9 458.9,2486.7 453.7,2484.4 448.5,2482 443.4,2479.4 438.3,2476.6 433.3,2473.7 428.3,2470.7 423.3,2467.6 418.4,2464.3 413.5,2460.9 408.7,2457.4 403.9,2453.8 399.1,2450.1 394.3,2446.3 389.6,2442.4 384.9,2438.4" fill="#19b6ff"/>
<polygon points="1444.8,2416.6 1447.3,2411 1450,2405.1 1452.8,2398.9 1455.7,2392.4 1458.8,2385.5 1461.9,2378.6 1465.2,2371.6 1468.6,2364.7 1472.2,2358 1475.7,2351.5 1479.4,2345.4 1483.2,2339.3 1487,2333.4 1490.9,2327.6 1495,2321.9 1498.9,2316.3 1502.9,2310.8 1507,2305.5 1508.5,2306.2 1506.5,2312.7 1504.3,2319.1 1501.8,2325.5 1499.1,2332 1496.3,2338.5 1493.4,2344.9 1490.2,2351.3 1487,2357.7 1483.6,2364.1 1479.9,2370.8 1476.1,2377.5 1472,2384.1 1467.8,2390.6 1463.4,2396.9 1459,2402.8 1454.5,2408.1 1450.1,2412.9 1445.7,2417.3" fill="#00e6ff"/>
<polygon points="1552.6,2120.4 1552.6,2111.9 1552.6,2103.5 1552.8,2095.2 1553.1,2087 1553.5,2079.2 1554.1,2071.7 1554.8,2064.4 1555.5,2057.5 1556.4,2050.8 1557.3,2044.3 1558.3,2038.1 1559.4,2031.9 1560.5,2025.8 1561.7,2019.8 1562.9,2013.9 1564.3,2008 1565.2,2008.1 1565.1,2014.1 1564.9,2020.2 1564.6,2026.3 1564.3,2032.5 1563.9,2038.7 1563.5,2045 1563,2051.5 1562.4,2058.2 1561.7,2065.1 1561,2072.3 1560.1,2079.8 1559.1,2087.6 1558.1,2095.6 1556.9,2103.9 1555.5,2112.2 1554,2120.5" fill="#e8c800"/>
<polygon points="1582.5,1812.2 1581.8,1805.9 1581.4,1799.6 1581.1,1793.3 1581,1787.1 1581,1780.9 1581.1,1774.8 1581.2,1768.6 1581.4,1762.4 1581.7,1756.3 1582,1750.1 1582.5,1743.9 1583.1,1737.7 1583.8,1731.5 1584.7,1725.2 1585.8,1719 1587,1712.9 1588.3,1706.7 1589.7,1700.6 1591.3,1694.6 1592.9,1688.6 1594.6,1682.6 1596.5,1676.6 1598.4,1670.7 1600.4,1664.7 1602.5,1658.8 1604.7,1652.9 1607,1647.1 1609.4,1641.2 1612.1,1635.4 1615.5,1636.1 1615.8,1642.5 1615.7,1648.9 1615.5,1655.2 1615.1,1661.5 1614.7,1667.7 1614.2,1674 1613.6,1680.2 1612.9,1686.3 1612.1,1692.5 1611.3,1698.7 1610.4,1704.8 1609.4,1710.8 1608.4,1716.8 1607.4,1722.8 1606.4,1728.8 1605.4,1734.7 1604.3,1740.7 1603.3,1746.7 1602.1,1752.7 1600.9,1758.7 1599.7,1764.8 1598.3,1770.8 1596.9,1776.8 1595.3,1782.9 1593.6,1788.8 1591.8,1794.8 1590,1800.8 1587.9,1806.7 1585.6,1812.5" fill="#ffe600"/>
<polygon points="1589.5,1751.1 1587.1,1744.5 1585.2,1738 1583.6,1731.4 1582.2,1724.8 1581.2,1718.2 1580.5,1711.7 1580,1705.1 1579.8,1698.7 1579.9,1692.3 1580.2,1686 1580.8,1679.8 1581.6,1673.6 1582.8,1667.5 1584.2,1661.4 1585.9,1655.3 1587.8,1649.4 1590,1643.6 1592.4,1637.8 1595,1632.1 1597.8,1626.5 1600.8,1620.8 1604.2,1614.8 1607.8,1608.7 1611.6,1602.7 1615.6,1596.9 1619.9,1591.4 1622.7,1591.8 1625,1598.4 1627,1605.2 1628.7,1612.2 1630.2,1619.2 1631.3,1626.1 1632.1,1632.9 1632.6,1639.4 1632.8,1645.9 1632.7,1652.3 1632.4,1658.7 1631.7,1665 1630.9,1671.1 1629.8,1677.2 1628.4,1683.2 1626.8,1689.2 1624.9,1695.1 1622.7,1701 1620.3,1706.7 1617.7,1712.4 1615,1718 1612,1723.6 1608.9,1729.2 1605.7,1734.8 1602.3,1740.4 1598.6,1746.1 1594.7,1751.7" fill="#ffa20f"/>
<polygon points="1623.4,1569 1623.3,1565.8 1623.3,1562.7 1623.5,1559.8 1623.8,1556.8 1624.3,1553.9 1624.9,1550.8 1625.6,1547.9 1626.5,1545.1 1627.5,1542.4 1628.6,1539.7 1630,1537.1 1631.4,1534.5 1633.1,1531.9 1635,1529.4 1637,1527 1639.1,1524.7 1641.3,1522.4 1643.7,1520.2 1646.4,1517.9 1649.2,1515.6 1652.4,1513.1 1655.9,1510.4 1659.7,1507.7 1663.8,1504.8 1668.1,1502 1672.5,1499.1 1676.8,1496.2 1680.9,1493.4 1684.9,1490.7 1688.8,1487.9 1692.8,1484.8 1697.1,1481.6 1701.3,1478.4 1705.6,1475.4 1709.9,1472.7 1713.9,1470.6 1717.5,1468.9 1721,1467.6 1724.3,1466.9 1725.4,1469.6 1723.2,1471.6 1720.8,1473.9 1718.1,1476.5 1715.2,1479.5 1712.1,1482.9 1708.8,1486.7 1705.3,1490.6 1701.6,1494.6 1697.8,1498.5 1694,1502.1 1690,1505.5 1685.9,1508.8 1681.6,1512.1 1677.2,1515.2 1673,1518.2 1669,1521 1665.2,1523.6 1661.7,1525.9 1658.6,1528.1 1655.9,1530 1653.4,1531.9 1651.1,1533.6 1649,1535.2 1647.1,1536.9 1645.3,1538.5 1643.6,1540.3 1641.9,1542.1 1640.4,1543.9 1639,1545.7 1637.7,1547.6 1636.4,1549.7 1635.1,1551.8 1633.9,1554.1 1632.6,1556.5 1631.4,1559 1630.3,1561.5 1629.2,1564 1628,1566.7 1626.6,1569.6" fill="#25c4f5"/>
<polygon points="68.7,2595.8 69.9,2596 71.8,2596.2 73.9,2596.6 76.3,2597 78.8,2597.6 81.4,2598.2 83.8,2598.8 86.1,2599.6 88.2,2600.4 90.3,2601.3 92.2,2602.3 94.1,2603.3 96,2604.5 97.9,2605.9 99.8,2607.5 101.7,2609.2 103.7,2611.1 105.7,2613.2 107.7,2615.3 109.7,2617.5 111.6,2619.8 113.6,2622.2 115.4,2624.5 117.3,2626.9 119.1,2629.3 120.9,2631.8 122.8,2634.3 124.6,2636.9 126.4,2639.4 128.2,2642 130.1,2644.5 131.8,2647 133.6,2649.5 135.4,2652 137.2,2654.5 138.9,2657 140.7,2659.5 142.5,2662 144.3,2664.6 146.1,2667.2 147.9,2669.9 149.7,2672.6 151.6,2675.3 153.4,2678 155.2,2680.7 157,2683.4 158.8,2685.9 160.6,2688.4 162.3,2690.8 164.1,2693.2 165.8,2695.5 167.6,2697.9 169.4,2700.2 171.1,2702.5 172.8,2704.8 174.5,2707 176.2,2709.3 177.8,2711.6 179.3,2713.9 180.8,2716.1 182.3,2718.4 183.7,2720.7 185,2723 186.2,2725.3 187.4,2727.5 188.5,2729.7 189.5,2732 190.5,2734.2 191.4,2736.4 192.2,2738.7 193,2741.1 193.8,2743.7 194.5,2746.3 195.1,2749.1 195.6,2751.9 196,2754.7 196.3,2757.6 196.6,2760.5 196.8,2763.4 197,2766.2 197,2769 197.1,2771.8 197.1,2774.5 197.1,2777.3 197,2780 196.9,2782.8 196.8,2785.6 196.7,2788.3 196.5,2791.1 196.4,2793.8 196.2,2796.6 196.1,2799.3 195.3,2799.4 194.3,2796.8 193.4,2794.2 192.5,2791.6 191.6,2789 190.7,2786.4 189.9,2783.8 189,2781.1 188.2,2778.5 187.3,2775.9 186.5,2773.3 185.7,2770.7 184.9,2768.1 184.1,2765.5 183.3,2762.9 182.5,2760.3 181.7,2757.7 180.9,2755.2 180.2,2752.8 179.4,2750.5 178.6,2748.2 177.9,2746.1 177.2,2744.1 176.5,2742.2 175.7,2740.3 174.9,2738.5 174.1,2736.6 173.2,2734.8 172.1,2732.8 171.1,2730.8 169.9,2728.9 168.7,2726.9 167.4,2724.9 166.1,2722.8 164.6,2720.7 163.1,2718.6 161.6,2716.5 160,2714.3 158.4,2712.1 156.7,2709.9 154.9,2707.6 153.1,2705.2 151.2,2702.8 149.4,2700.3 147.6,2697.7 145.7,2695.1 143.8,2692.5 142,2689.7 140.1,2687 138.3,2684.2 136.5,2681.5 134.7,2678.9 132.9,2676.3 131.2,2673.7 129.4,2671.2 127.7,2668.7 125.9,2666.3 124.1,2663.8 122.4,2661.3 120.6,2658.8 118.8,2656.3 117,2653.8 115.2,2651.3 113.4,2648.7 111.6,2646.2 109.8,2643.7 108,2641.3 106.3,2638.9 104.5,2636.6 102.8,2634.4 101.1,2632.2 99.3,2630 97.6,2628 95.9,2626.1 94.2,2624.3 92.5,2622.6 90.9,2621 89.3,2619.6 87.8,2618.3 86.3,2617 84.9,2615.7 83.5,2614.4 82.1,2612.9 80.8,2611.4 79.4,2609.9 78,2608.1 76.4,2606.2 74.8,2604.2 73.3,2602.1 71.8,2600.1 70.5,2598.3 69.4,2596.8 68.7,2595.8" fill="#2cc0f5"/>
<polygon points="68.7,2595.8 69.9,2596 71.8,2596.2 73.9,2596.6 76.3,2597 78.8,2597.6 81.4,2598.2 83.8,2598.8 86.1,2599.6 88.2,2600.4 90.3,2601.3 92.2,2602.3 94.1,2603.3 96,2604.5 97.9,2605.9 99.8,2607.5 101.7,2609.2 103.7,2611.1 105.7,2613.2 107.7,2615.3 109.7,2617.5 111.6,2619.8 113.6,2622.2 115.4,2624.5 117.3,2626.9 119.1,2629.3 120.9,2631.8 122.8,2634.3 124.6,2636.9 126.4,2639.4 128.2,2642 130.1,2644.5 131.8,2647 133.6,2649.5 135.4,2652 137.2,2654.5 138.9,2657 140.7,2659.5 142.5,2662 144.3,2664.6 146.1,2667.2 147.9,2669.9 149.7,2672.6 151.6,2675.3 153.4,2678 155.2,2680.7 157,2683.4 158.8,2685.9 160.6,2688.4 162.3,2690.8 164.1,2693.2 165.8,2695.5 167.6,2697.9 169.4,2700.2 171.1,2702.5 172.8,2704.8 174.5,2707 176.2,2709.3 177.8,2711.6 179.3,2713.9 180.8,2716.1 182.3,2718.4 183.7,2720.7 185,2723 186.2,2725.3 187.4,2727.5 188.5,2729.7 189.5,2732 190.5,2734.2 191.4,2736.4 192.2,2738.7 193,2741.1 193.8,2743.7 194.5,2746.3 195.1,2749.1 195.6,2751.9 196,2754.7 196.3,2757.6 196.6,2760.5 196.8,2763.4 197,2766.2 197,2769 197.1,2771.8 197.1,2774.5 197.1,2777.3 197,2780 196.9,2782.8 196.8,2785.6 196.7,2788.3 196.5,2791.1 196.4,2793.8 196.2,2796.6 196.1,2799.3 195.7,2799.3 195.4,2796.7 195,2794 194.7,2791.3 194.3,2788.6 194,2785.9 193.6,2783.3 193.2,2780.5 192.9,2777.8 192.5,2775.2 192.1,2772.5 191.7,2769.8 191.3,2767.1 190.8,2764.4 190.4,2761.7 189.9,2758.9 189.3,2756.1 188.7,2753.4 188.1,2750.8 187.4,2748.2 186.7,2745.8 185.9,2743.5 185.2,2741.3 184.4,2739.1 183.6,2737.1 182.7,2735 181.7,2733 180.7,2730.9 179.6,2728.8 178.5,2726.7 177.2,2724.5 175.9,2722.4 174.5,2720.2 173.1,2718.1 171.6,2715.9 170.1,2713.7 168.5,2711.5 166.8,2709.2 165.2,2707 163.4,2704.7 161.6,2702.4 159.8,2700.1 158.1,2697.7 156.3,2695.3 154.5,2692.8 152.7,2690.3 150.8,2687.6 149,2684.9 147.2,2682.2 145.3,2679.5 143.5,2676.8 141.7,2674.1 139.9,2671.5 138.1,2668.9 136.4,2666.3 134.6,2663.8 132.8,2661.3 131.1,2658.8 129.3,2656.4 127.5,2653.9 125.7,2651.4 123.9,2648.9 122.1,2646.3 120.3,2643.8 118.5,2641.2 116.7,2638.7 114.9,2636.3 113.1,2633.8 111.3,2631.5 109.5,2629.1 107.7,2626.8 105.9,2624.6 104,2622.4 102.2,2620.3 100.3,2618.4 98.5,2616.5 96.7,2614.8 94.9,2613.2 93.2,2611.7 91.5,2610.4 89.8,2609.1 88.1,2607.9 86.5,2606.7 84.7,2605.5 83,2604.4 81.1,2603.2 79,2601.9 77,2600.6 74.9,2599.4 72.9,2598.3 71.2,2597.2 69.7,2596.3 68.7,2595.8" fill="#00e4ff"/>
<polygon points="196.2,2802 197.2,2804.6 198.2,2807.2 199.2,2809.7 200.1,2812.3 201.1,2814.9 202,2817.5 203,2820.1 203.8,2822.7 204.7,2825.3 205.5,2827.9 206.3,2830.5 207,2833.1 207.7,2835.7 208.3,2838.2 208.9,2840.8 209.4,2843.4 209.9,2846 210.4,2848.9 210.8,2851.8 211.2,2854.7 211.5,2857.1 211.9,2859.5 212.2,2862 212.6,2865 213.1,2868.6 213.7,2873.2 214.4,2879 215.3,2885.9 216.4,2894.3 217.5,2903.5 218.8,2913.4 220,2923.6 221.4,2934 222.7,2944.5 223.9,2954.6 225.2,2964.6 226.5,2974.8 227.9,2985.2 229.3,2995.7 230.6,3006.3 231.9,3016.9 233.2,3027.4 234.4,3037.9 235.6,3048.5 236.8,3059.5 237.9,3070.6 239,3081.6 240,3092.3 241,3102.6 241.9,3112.3 242.8,3121.3 243.4,3128.9 244,3135.5 244.4,3141.4 244.9,3146.8 245.3,3152.2 245.8,3158 246.4,3164.5 247.2,3172 248.2,3180.9 249.4,3190.5 250.8,3200.8 252.2,3211.4 253.7,3222.4 255.1,3233.5 256.4,3244.5 257.5,3255.2 258.5,3265.7 259.4,3276.2 260.1,3286.7 260.9,3297.2 261.6,3307.6 262.3,3318 263.1,3328.4 263.9,3338.7 264.8,3349.2 265.8,3360 266.8,3370.8 267.8,3381.5 268.8,3392 269.9,3402.3 271,3412.2 271.4,3421.6 270.5,3430.7 268.9,3439.2 264.1,3439.9 260,3432.1 256.6,3423.5 254.7,3414.1 253.5,3404.1 252.4,3393.7 251.3,3383.1 250.3,3372.3 249.3,3361.5 248.4,3350.7 247.5,3340.1 246.6,3329.7 245.8,3319.2 245.1,3308.7 244.4,3298.3 243.7,3287.9 242.9,3277.5 242.1,3267.1 241.1,3256.9 240,3246.4 238.7,3235.5 237.3,3224.5 235.9,3213.6 234.4,3202.9 233.1,3192.6 231.8,3182.9 230.8,3173.8 230,3166.1 229.4,3159.5 228.9,3153.6 228.4,3148.1 228,3142.7 227.5,3136.9 227,3130.3 226.3,3122.8 225.5,3113.8 224.6,3104.2 223.6,3093.9 222.6,3083.2 221.5,3072.2 220.4,3061.2 219.2,3050.3 218,3039.8 216.8,3029.4 215.6,3018.9 214.2,3008.3 212.9,2997.8 211.5,2987.4 210.2,2977 208.9,2966.7 207.6,2956.7 206.3,2946.5 205,2936.1 203.7,2925.6 202.4,2915.4 201.1,2905.5 200,2896.3 198.9,2888 198.1,2881.1 197.3,2875.3 196.7,2870.8 196.2,2867.2 195.9,2864.2 195.5,2861.7 195.2,2859.3 194.9,2856.9 194.5,2854.1 194.1,2851.1 193.8,2848.2 193.6,2845.5 193.5,2842.8 193.3,2840.2 193.3,2837.6 193.3,2835 193.3,2832.3 193.4,2829.5 193.5,2826.8 193.7,2824.1 193.9,2821.3 194.1,2818.6 194.3,2815.8 194.6,2813 194.9,2810.3 195.2,2807.6 195.6,2804.8 195.9,2802" fill="#ffe400"/>
<polygon points="218.8,2975.8 221.2,2986.1 223.7,2996.4 226.1,3006.8 228.4,3017.3 230.6,3027.7 232.7,3038.1 234.7,3048.6 236.5,3059.5 238.3,3070.5 239.8,3081.5 241.2,3092.2 242.4,3102.5 243.4,3112.2 244.2,3121.1 244.9,3128.8 245.5,3135.4 245.9,3141.3 246.4,3146.7 246.8,3152.1 247.3,3157.9 247.9,3164.3 248.7,3171.8 249.7,3180.7 250.9,3190.3 252.3,3200.6 253.7,3211.3 255.1,3222.2 256.5,3233.3 257.9,3244.3 259,3255.1 260,3265.6 260.9,3276.1 261.6,3286.6 262.4,3297 263.1,3307.5 263.8,3317.9 264.5,3328.3 265.4,3338.6 266.3,3349.1 267.3,3359.8 268.2,3370.6 269.3,3381.3 270.3,3391.9 271.4,3402.1 272.5,3412 273.7,3421.4 273.1,3430.3 270.3,3439 266.5,3439.5 265.4,3431.4 264.2,3422.6 263.1,3413.1 262,3403.1 260.9,3392.8 259.8,3382.3 258.8,3371.5 257.8,3360.7 256.8,3349.9 255.9,3339.4 255.1,3329 254.3,3318.6 253.6,3308.1 252.9,3297.7 252.2,3287.3 251.4,3276.8 250.5,3266.4 249.5,3256 248.4,3245.4 247.1,3234.5 245.7,3223.4 244.3,3212.5 242.9,3201.8 241.5,3191.5 240.3,3181.8 239.2,3172.9 238.4,3165.3 237.8,3158.7 237.3,3152.9 236.9,3147.5 236.5,3142.1 236,3136.2 235.5,3129.6 234.8,3122 234,3113 233,3103.4 232.1,3093 231,3082.3 229.9,3071.4 228.8,3060.3 227.7,3049.4 226.5,3038.8 225.3,3028.4 224,3017.8 222.7,3007.3 221.3,2996.7 220,2986.3 218.6,2975.9" fill="#ffc21a"/>
<polygon points="271.2,3412.2 281,3420.4 287.1,3428.4 289.3,3436.2 290.5,3443.8 291.6,3451.1 292.9,3458.3 294.2,3465.4 295.6,3472.5 297.1,3479.9 298.8,3487.4 300.6,3494.9 302.5,3502.5 304.5,3510 306.6,3517.6 308.8,3525.3 311,3532.9 313.3,3540.6 315.6,3548.5 318.1,3556.5 320.6,3564.7 323.2,3572.7 325.4,3580.6 327.2,3588.2 328.6,3595.5 329.8,3602.1 330.8,3608.3 331.7,3613.8 332.4,3618.8 333.2,3623.6 334.1,3628.3 335.1,3632.9 336.3,3637.8 337.7,3643.1 339.5,3648.7 341.5,3654.4 339.4,3656.3 334.6,3652.7 330,3649.1 325.7,3645.3 321.9,3641.6 318.3,3637.8 314.9,3633.8 311.5,3629.5 308.2,3624.9 304.8,3619.7 301.4,3613.9 297.9,3607.3 294.4,3600.1 291.1,3592.4 288.1,3584.2 285.4,3575.9 282.8,3567.5 280.2,3559.2 277.8,3551.2 275.5,3543.4 273.2,3535.5 270.9,3527.6 268.8,3519.6 266.7,3511.7 264.7,3503.7 262.8,3495.8 261,3487.8 259.3,3479.9 257.8,3472.3 256.4,3464.8 255.1,3457.2 253.9,3449.5 252.7,3441.5 252.2,3433.1 254.1,3423.8 258.2,3413.7" fill="#ff9c0a"/>
<polygon points="323.2,3629.2 326.8,3632.7 330.2,3636.1 333.7,3639.6 337.4,3643.3 341.3,3647.2 345.2,3651.1 349.3,3655.1 353.3,3659.2 357.4,3663.3 361.4,3667.6 365.3,3671.8 369.2,3676.1 372.9,3680.3 376.6,3684.7 380,3689.4 379.1,3690.7 373.3,3689.1 367.9,3686.9 362.6,3684.2 357.4,3681.2 352.4,3677.7 347.5,3674 342.8,3669.9 338.5,3665.4 334.5,3660.7 330.9,3655.8 327.8,3650.8 325.1,3645.7 323,3640.8 321.4,3636 320.3,3630.8" fill="#ffd21a"/>
<polygon points="389.5,3695.3 394.8,3697.3 400.2,3699.3 405.6,3701.2 411.1,3703.1 416.6,3705 422.1,3706.8 427.7,3708.6 433.2,3710.4 438.8,3712.1 444.2,3713.9 449.6,3715.7 454.9,3717.5 460.2,3719.3 465.4,3721.1 470.5,3722.9 475.6,3724.8 480.6,3726.6 485.6,3728.3 490.6,3730 495.6,3731.6 500.5,3733 505.5,3734.4 510.5,3735.7 515.4,3736.9 520.5,3738.1 525.5,3739.1 530.5,3740.2 535.6,3741.2 540.7,3742.1 545.7,3742.9 550.8,3743.7 555.8,3744.4 560.7,3745 565.7,3745.5 570.6,3745.9 575.5,3746.1 580.4,3746.3 585.2,3746.4 590.1,3746.3 595,3746.2 599.9,3746 604.8,3745.6 609.7,3745.2 614.6,3744.7 619.5,3744 624.5,3743.3 629.5,3742.4 634.6,3741.5 639.8,3740.5 644.9,3739.5 650,3738.5 655.1,3737.4 660.3,3736.3 665.4,3735.1 670.7,3733.9 675.9,3732.7 681.3,3731.6 686.6,3730.4 691.9,3729.4 697,3728.5 701.8,3727.7 706.6,3727 711.3,3726.4 716.2,3725.7 721.3,3725.1 726.7,3724.5 732.5,3724 739,3723.3 745.9,3722.7 753.2,3722.1 760.8,3721.5 768.5,3721 776.3,3720.6 784,3720.3 791.6,3720.2 799,3720.3 806.5,3720.4 813.9,3720.8 821.3,3721.2 828.7,3721.8 836.1,3722.4 843.5,3723.2 850.8,3724.1 858.2,3725.1 865.4,3726.3 872.7,3727.6 879.9,3729 879.8,3729.8 872.5,3729.5 865.1,3729.3 857.8,3729.2 850.5,3729.3 843.2,3729.4 835.9,3729.7 828.6,3730.1 821.3,3730.6 814.1,3731.1 806.8,3731.8 799.6,3732.6 792.4,3733.5 785.2,3734.5 777.8,3735.7 770.4,3737 763,3738.4 755.6,3739.8 748.5,3741.2 741.8,3742.6 735.4,3743.8 729.8,3745 724.6,3746 719.7,3747.1 715.1,3748.1 710.7,3749.1 706.2,3750.1 701.7,3751.2 696.9,3752.4 692,3753.8 687.1,3755.1 682,3756.6 676.9,3758.1 671.7,3759.6 666.4,3761.1 661.1,3762.5 655.8,3763.9 650.5,3765.2 645.1,3766.4 639.8,3767.6 634.4,3768.7 628.9,3769.7 623.4,3770.6 617.9,3771.4 612.4,3772 606.9,3772.5 601.5,3772.9 596,3773.2 590.6,3773.3 585.1,3773.4 579.7,3773.3 574.3,3773.1 568.8,3772.8 563.3,3772.4 557.8,3771.8 552.3,3771.2 546.9,3770.4 541.4,3769.6 536,3768.7 530.6,3767.7 525.3,3766.7 519.9,3765.6 514.6,3764.4 509.2,3763.2 503.9,3761.9 498.5,3760.5 493.1,3759 487.7,3757.4 482.3,3755.7 476.8,3753.9 471.4,3751.9 466,3749.9 460.7,3747.6 455.4,3745.2 450.2,3742.6 445.1,3739.8 440,3737 435,3733.9 430,3730.7 424.9,3727.4 420,3723.9 415.1,3720.3 410.3,3716.6 405.7,3712.8 401.2,3708.9 396.8,3705 392.5,3701.1 388.4,3697.1" fill="#19b6ff"/>
<polygon points="1426.7,3684.1 1428.9,3679.4 1431.2,3674.7 1433.6,3669.7 1436,3664.5 1438.5,3659 1441.1,3653 1443.9,3646.8 1446.7,3640.4 1449.7,3633.9 1452.9,3627.4 1456.2,3621 1459.7,3614.9 1463.3,3608.9 1467.1,3602.9 1471,3597 1475.1,3591.2 1479.3,3585.5 1483.5,3579.9 1487.7,3574.6 1489.5,3575.5 1487.3,3582 1484.9,3588.5 1482.3,3595.1 1479.6,3601.6 1476.7,3608.1 1473.7,3614.5 1470.8,3620.7 1467.7,3627 1464.5,3633.3 1461.1,3639.7 1457.5,3646 1453.9,3652.2 1450.1,3658 1446.2,3663.5 1442.3,3668.6 1438.5,3673.1 1434.7,3677.2 1430.9,3680.9 1426.9,3684.3" fill="#00e6ff"/>
<polygon points="1536.9,3397.2 1536.7,3389 1536.7,3380.8 1536.9,3372.6 1537.1,3364.4 1537.5,3356.3 1538,3348.2 1538.6,3340.2 1539.4,3332 1540.3,3323.8 1541.4,3315.6 1542.5,3307.6 1543.9,3299.8 1545.3,3292.1 1546.9,3284.9 1548.1,3285 1547.9,3292.4 1547.8,3300.1 1547.5,3308 1547.2,3316.1 1546.8,3324.3 1546.3,3332.5 1545.6,3340.8 1544.8,3348.9 1543.9,3356.9 1542.9,3365 1541.8,3373 1540.5,3381.1 1539.1,3389.2 1537.5,3397.3" fill="#e8c800"/>
<polygon points="1570.8,3078.3 1569.8,3072 1569.3,3065.7 1569,3059.5 1568.9,3053.2 1568.9,3047 1569,3040.8 1569.2,3034.5 1569.5,3028.3 1570,3022.1 1570.6,3015.9 1571.2,3009.7 1572,3003.5 1572.9,2997.4 1573.8,2991.3 1574.8,2985.2 1575.9,2979.1 1577.1,2973.1 1578.3,2967.1 1579.7,2961.1 1581.1,2955 1582.6,2949 1584.3,2943 1586.1,2937 1588,2930.9 1590.1,2924.7 1592.4,2918.5 1594.9,2912.3 1597.5,2906.3 1600.7,2900.6 1601.8,2900.9 1602.5,2907.3 1602.6,2913.8 1602.5,2920.4 1602.3,2927 1602,2933.5 1601.6,2939.8 1601.2,2946 1600.8,2952.1 1600.2,2958.2 1599.7,2964.3 1599,2970.5 1598.3,2976.6 1597.4,2982.7 1596.5,2988.8 1595.5,2994.9 1594.4,3001 1593.2,3007.1 1591.9,3013.1 1590.5,3019.2 1589.1,3025.1 1587.6,3031.1 1586.1,3037.1 1584.5,3043 1582.9,3049 1581.2,3054.9 1579.4,3060.9 1577.5,3066.8 1575.3,3072.7 1572.8,3078.6" fill="#ffe600"/>
<polygon points="1578,3017.1 1575.8,3010.4 1574,3003.8 1572.5,2997.3 1571.2,2990.8 1570,2984.4 1569.2,2978 1568.5,2971.7 1568.1,2965.4 1567.9,2959.1 1568,2952.8 1568.5,2946.6 1569.2,2940.3 1570.2,2934.1 1571.6,2927.8 1573.4,2921.5 1575.5,2915.1 1577.9,2908.9 1580.5,2902.8 1583.4,2897 1586.3,2891.5 1589.3,2886.5 1592.2,2881.9 1595,2877.9 1597.8,2874.2 1600.5,2870.7 1603.3,2867.3 1606.1,2864.1 1609.2,2860.9 1612.1,2861.6 1613.3,2866 1614.2,2870.1 1615.1,2874.3 1615.9,2878.6 1616.6,2883.1 1617.3,2887.8 1618,2892.9 1618.6,2898.6 1619.1,2904.5 1619.5,2910.8 1619.6,2917.3 1619.4,2923.8 1619,2930.3 1618.4,2936.6 1617.4,2942.7 1616.3,2948.6 1614.9,2954.5 1613.3,2960.4 1611.4,2966.3 1609.3,2972.1 1606.9,2978 1604.2,2983.8 1601.3,2989.6 1598.2,2995.4 1594.8,3001.1 1591.2,3006.7 1587.3,3012.4 1583.1,3017.9" fill="#ffa20f"/>
<polygon points="1610.4,2857 1609.4,2852.4 1609.1,2847.8 1609,2843.2 1609,2838.6 1609.3,2834.1 1609.8,2829.7 1610.5,2825.5 1611.3,2821.6 1612.2,2818.1 1613.3,2814.9 1614.4,2811.9 1615.7,2809.1 1617.1,2806.5 1618.7,2803.7 1620.7,2800.8 1623.1,2797.9 1625.8,2794.9 1628.9,2791.9 1632.1,2789.1 1635.5,2786.5 1639,2783.9 1642.6,2781.4 1646.2,2778.9 1649.8,2776.4 1653.7,2773.8 1658,2771 1662.5,2768 1667.2,2765 1671.9,2762.2 1676.7,2759.4 1681.2,2756.9 1685.4,2754.7 1689.4,2752.8 1693.5,2751 1697.7,2749.4 1702.1,2748.3 1703.8,2750.5 1701.8,2754.5 1699.3,2758.3 1696.6,2761.8 1693.8,2765.3 1690.8,2768.9 1687.4,2772.7 1683.6,2776.8 1679.8,2780.8 1675.8,2784.7 1671.8,2788.5 1667.7,2792.1 1664,2795.3 1660.3,2798.3 1656.7,2801 1653.3,2803.6 1650,2805.9 1647.1,2808.1 1644.4,2810.1 1642.1,2812 1640,2813.8 1638.3,2815.5 1636.8,2817.1 1635.5,2818.6 1634.3,2820.1 1633.1,2821.8 1631.8,2823.6 1630.6,2825.7 1629.1,2828.2 1627.6,2831.2 1625.9,2834.5 1624.1,2838.1 1622.3,2841.9 1620.3,2845.9 1618.2,2849.9 1615.8,2853.9 1612.8,2857.6" fill="#25c4f5"/>
<path d="M51.4 35.7L67 54.5" stroke="#ff9a14" stroke-width="5" fill="none" stroke-linecap="round"/>
<path d="M1733 198L1756 192" stroke="#ffa514" stroke-width="5" fill="none" stroke-linecap="round"/>
<path d="M58.6 1305.7L67 1318" stroke="#f5b81e" stroke-width="5" fill="none" stroke-linecap="round"/>
<path d="M1736 1466.5L1759 1459" stroke="#ffb414" stroke-width="5" fill="none" stroke-linecap="round"/>
<path d="M55.7 2578.6L69 2596" stroke="#1e9fff" stroke-width="5" fill="none" stroke-linecap="round"/>
<path d="M1710 2743L1756 2731.5" stroke="#ffa514" stroke-width="5" fill="none" stroke-linecap="round"/>
<polyline points="65.7,54.3 67,54.9 68.9,55.8 71.1,56.9 73.4,58 76,59.3 78.4,60.6 80.8,61.9 82.9,63.1 84.8,64.3 86.5,65.4 88.2,66.6 89.8,67.7 91.4,69 93.1,70.3 94.7,71.8 96.5,73.5 98.4,75.4 100.2,77.5 102.2,79.9 104.1,82.4 106,85 107.8,87.7 109.7,90.3 111.5,92.9 113.2,95.4 115,97.9 116.8,100.3 118.5,102.8 120.3,105.3 122.1,107.8 123.9,110.4 125.7,112.9 127.5,115.5 129.2,118.2 131,120.8 132.8,123.5 134.6,126.2 136.4,128.9 138.2,131.6 139.9,134.4 141.7,137.2 143.5,140 145.3,142.9 147.2,145.8 149,148.7 150.9,151.6 152.7,154.3 154.5,157 156.3,159.4 158,161.8 159.7,164.1 161.5,166.4 163.2,168.7 164.9,171 166.6,173.3 168.4,175.8 170.3,178.5 172.3,181.3 174.2,184.3 176.1,187.4 178,190.4 179.6,193.4 181.2,196.2 182.5,198.9 183.5,201.2 184.5,203.4 185.2,205.5 185.9,207.4 186.5,209.4 187.1,211.4 187.7,213.5 188.2,215.8 188.7,218.2 189.2,220.8 189.6,223.4 190,226.1 190.4,228.9 190.8,231.6 191.1,234.4 191.5,237.1 191.8,239.8 192.2,242.5 192.5,245.2 192.9,247.8 193.2,250.5 193.6,253.2 193.9,255.9 194.3,258.6 194.6,261.3 195,264 195.4,266.7 195.7,269.3 196.1,272 196.4,274.7 196.8,277.3 197.1,280 197.5,282.6 197.8,285.1 198.1,287.6 198.5,290.1 198.8,292.7 199.2,295.4 199.6,298.3 200,301.5 200.4,304.3 200.7,306.8 201.1,309 201.4,311.6 201.8,314.8 202.4,319 203.1,324.4 204,332 205.1,341.3 206.4,352.4 207.8,364.5 209.3,378 210.9,392.3 212.6,406.8 214.3,421.6 216,436 217.8,450.8 219.7,466.8 221.6,483.2 223.6,499.9 225.6,516.4 227.5,532.3 229.4,547.4 231,561.2 232.5,573 233.8,583.4 235.1,592.9 236.3,602 237.4,611.1 238.5,620.6 239.7,631 241,642.8 242.3,656.6 243.7,671.7 245.1,687.6 246.5,704.1 247.8,720.8 249.2,737.2 250.5,753.1 251.7,768 252.9,782.2 254,796.4 255.1,810.5 256.2,824.1 257.2,837 258.1,849.4 259.1,861.1 260,872 260.8,881.8 261.5,890.5 262.1,898.3 262.8,905.6 263.4,912.6 264.2,919.5 265,926.5 266.1,934 267.3,941.8 268.6,949.5 270,957.2 271.5,964.9 273.1,972.7 274.9,980.4 276.8,988.2 278.8,996 281,1003.9 283.4,1012.2 286,1020.5 288.7,1028.8 291.4,1036.9 294.2,1044.7 296.9,1052.2 299.6,1059 302,1065.2 304.4,1070.8 306.6,1076 308.9,1080.9 311.4,1085.7 314,1090.3 316.9,1095 320.2,1099.8 324.1,1104.8 328.5,1109.9 333.2,1115 338.2,1120.1 343.2,1125 348.3,1129.6 353.2,1134 357.8,1137.9 362.1,1141.4 366.3,1144.6 370.3,1147.5 374.2,1150.2 378.2,1152.8 382.2,1155.3 386.5,1157.9 391,1160.5 395.8,1163.2 400.8,1165.8 406,1168.5 411.3,1171.1 416.6,1173.6 421.9,1176.1 427.3,1178.6 432.5,1181 437.7,1183.3 442.9,1185.6 448.1,1187.8 453.3,1190 458.5,1192.1 463.6,1194.1 468.8,1196 474,1197.9 479.2,1199.7 484.4,1201.4 489.7,1203 494.9,1204.6 500.1,1206 505.3,1207.4 510.5,1208.7 515.6,1209.9 520.8,1211 526,1212 531.1,1213 536.3,1213.9 541.5,1214.7 546.6,1215.4 551.8,1216 557,1216.6 562.2,1217.1 567.4,1217.6 572.7,1217.9 577.9,1218.2 583.2,1218.5 588.4,1218.6 593.6,1218.7 598.8,1218.7 604,1218.6 609.1,1218.5 614.3,1218.2 619.4,1217.9 624.5,1217.5 629.6,1217.1 634.8,1216.5 640,1215.9 645.1,1215.2 650.2,1214.4 655.2,1213.5 660.3,1212.6 665.4,1211.5 670.8,1210.4 676.2,1209.2 682,1207.9 688,1206.5 694.1,1204.9 700.4,1203.2 706.9,1201.5 713.6,1199.8 720.4,1198.1 727.2,1196.5 734,1195.1 741,1193.9 748.1,1192.7 755.3,1191.6 762.6,1190.7 769.9,1189.8 777.3,1189 784.7,1188.3 792,1187.8 799.3,1187.3 806.6,1186.8 814,1186.5 821.3,1186.3 828.7,1186.2 836,1186.2 843.4,1186.3 850.7,1186.6 858,1187 865.3,1187.6 872.6,1188.3 879.8,1189.2 887.1,1190.1 894.4,1191.2 901.7,1192.3 909,1193.6 916.3,1195 923.6,1196.5 931,1198.1 938.3,1199.8 945.6,1201.6 953,1203.4 960.3,1205.2 967.6,1207 974.9,1208.8 982.2,1210.6 989.5,1212.5 996.8,1214.3 1004.1,1216.2 1011.4,1218 1018.7,1219.8 1026,1221.6 1033.3,1223.3 1040.6,1225.1 1047.9,1226.8 1055.3,1228.5 1062.6,1230.1 1069.9,1231.7 1077.2,1233 1084.5,1234.3 1091.8,1235.4 1099.1,1236.4 1106.5,1237.2 1113.8,1238 1121.1,1238.6 1128.4,1239.2 1135.7,1239.6 1143,1239.9 1150.3,1240.1 1157.6,1240.2 1165,1240.1 1172.3,1240 1179.6,1239.8 1186.8,1239.6 1194,1239.3 1201,1239 1208,1238.7 1214.8,1238.5 1221.6,1238.2 1228.3,1237.9 1234.8,1237.4 1241.3,1236.9 1247.7,1236.2 1254,1235.4 1260.1,1234.4 1266,1233.2 1271.9,1231.9 1277.6,1230.5 1283.3,1229 1288.9,1227.5 1294.5,1226 1300,1224.4 1305.4,1222.9 1310.8,1221.4 1316.1,1219.9 1321.4,1218.3 1326.6,1216.7 1331.8,1215 1336.9,1213.2 1341.9,1211.2 1347,1209.2 1352,1207 1357.1,1204.6 1362.1,1202.2 1367,1199.7 1371.8,1197.1 1376.4,1194.5 1381,1191.9 1385.3,1189.3 1389.6,1186.6 1393.7,1183.9 1397.8,1181.1 1401.8,1178.3 1405.7,1175.3 1409.6,1172.2 1413.5,1168.9 1417.4,1165.4 1421.1,1162 1424.8,1158.3 1428.5,1154.5 1432.1,1150.5 1435.6,1146.3 1439.2,1141.6 1442.6,1136.6 1446,1131.1 1449.4,1125 1452.7,1118.6 1456,1111.8 1459.2,1104.9 1462.4,1098.1 1465.7,1091.3 1468.9,1084.9 1472.1,1078.5 1475.4,1072.2 1478.8,1065.9 1482.1,1059.5 1485.4,1053.4 1488.7,1047.4 1491.8,1041.6 1494.8,1036.1 1497.8,1030.8 1500.6,1025.8 1503.3,1021.1 1506,1016.5 1508.5,1011.8 1511,1007.1 1513.3,1002.2 1515.7,996.9 1517.9,991.4 1519.9,985.8 1521.9,980.1 1523.7,974.3 1525.4,968.3 1527.1,961.9 1528.8,955.3 1530.4,948.4 1532,941 1533.6,933.3 1535.2,925.2 1536.7,917 1538.1,908.5 1539.4,900.1 1540.7,891.7 1541.8,883.5 1542.9,875.4 1543.9,867.3 1544.7,859.2 1545.5,851.2 1546.3,843.1 1547,834.9 1547.7,826.8 1548.4,818.6 1549,810.2 1549.6,801.5 1550.2,792.6 1550.7,783.8 1551.2,775.2 1551.8,766.9 1552.4,759.2 1553.2,752 1553.9,745.8 1554.7,740.7 1555.4,736.1 1556.2,731.9 1556.9,727.6 1557.7,723 1558.6,717.5 1559.6,711 1560.6,703.5 1561.7,694.9 1562.7,685.8 1563.8,676.1 1564.9,666.4 1565.9,656.6 1567,647 1567.9,637.9 1568.8,629.1 1569.6,620.4 1570.5,611.6 1571.3,602.9 1572.1,594.4 1572.8,586.2 1573.6,578.3 1574.4,570.8 1575.2,563.8 1576,557.3 1576.8,551.1 1577.5,545.3 1578.3,539.5 1579.1,533.8 1579.9,528 1580.8,522 1581.8,515.9 1582.7,509.8 1583.7,503.8 1584.7,497.7 1585.8,491.6 1586.8,485.6 1587.9,479.5 1589,473.4 1590.2,467.3 1591.3,461.2 1592.5,455.1 1593.8,449.1 1595,443 1596.2,436.9 1597.5,430.8 1598.7,424.7 1599.9,418.6 1601.1,412.5 1602.3,406.5 1603.6,400.4 1604.8,394.3 1606,388.2 1607.2,382.1 1608.4,376 1609.6,369.8 1610.9,363.4 1612.1,356.9 1613.4,350.5 1614.6,344.2 1615.8,338.1 1616.9,332.3 1618,327 1618.9,322.1 1619.8,317.4 1620.6,313.2 1621.5,309.1 1622.3,305.2 1623.2,301.7 1624.1,298.2 1625.1,294.9 1626.1,291.9 1627.2,289.3 1628.2,287 1629.2,284.8 1630.3,282.7 1631.6,280.5 1633.1,278.2 1634.8,275.7 1636.9,272.9 1639.2,270.2 1641.7,267.4 1644.4,264.5 1647.4,261.6 1650.4,258.7 1653.7,255.7 1657.1,252.7 1660.7,249.6 1664.6,246.4 1668.7,243.1 1672.9,239.8 1677.2,236.5 1681.4,233.1 1685.5,229.8 1689.5,226.5 1693.4,223.1 1697.3,219.5 1701.3,215.9 1705.3,212.3 1709.1,208.9 1712.7,205.9 1716.1,203.4 1719.1,201.3 1721.7,199.7 1724.2,198.6 1726.5,197.9 1728.7,197.5 1730.7,197.4 1732.4,197.4 1733.8,197.5 1734.8,197.4" fill="none" stroke="#0a0a0a" stroke-width="4" stroke-linejoin="round" stroke-linecap="round"/>
<polyline points="65.7,1317.1 67,1317.8 68.9,1318.8 71.1,1320 73.4,1321.3 75.9,1322.8 78.4,1324.4 80.7,1325.9 82.8,1327.5 84.7,1329 86.4,1330.4 88.2,1331.8 89.9,1333.3 91.6,1334.9 93.3,1336.6 95.1,1338.4 96.8,1340.3 98.6,1342.3 100.4,1344.4 102.3,1346.6 104.1,1348.9 105.9,1351.3 107.8,1353.8 109.6,1356.2 111.4,1358.6 113.2,1361 114.9,1363.5 116.7,1366 118.5,1368.5 120.3,1371 122.1,1373.5 123.9,1376.1 125.7,1378.6 127.5,1381.2 129.2,1383.9 131,1386.5 132.8,1389.2 134.6,1391.8 136.4,1394.5 138.2,1397.2 140,1400 141.8,1402.8 143.6,1405.7 145.4,1408.6 147.3,1411.5 149.1,1414.4 150.8,1417.3 152.5,1420.2 154.2,1423 155.7,1425.7 157.3,1428.5 158.8,1431.2 160.2,1434 161.7,1436.6 163.1,1439.2 164.5,1441.8 165.8,1444.2 167.2,1446.6 168.5,1448.9 169.7,1451.1 171,1453.3 172.2,1455.5 173.3,1457.5 174.4,1459.6 175.4,1461.6 176.3,1463.5 177.1,1465.2 177.8,1466.9 178.4,1468.5 179,1470.2 179.6,1471.9 180.1,1473.8 180.6,1475.9 181.1,1478.2 181.5,1480.6 181.9,1483.2 182.2,1486 182.4,1488.8 182.6,1491.6 182.8,1494.4 182.9,1497.1 183.1,1499.8 183.2,1502.5 183.4,1505.2 183.6,1507.9 183.8,1510.6 184,1513.2 184.2,1515.9 184.5,1518.6 184.7,1521.3 185,1523.9 185.4,1526.6 185.7,1529.3 186,1532 186.4,1534.7 186.7,1537.3 187,1540 187.3,1542.7 187.6,1545.3 187.9,1548 188.2,1550.7 188.5,1553.4 188.8,1556.1 189,1558.7 189.3,1561.4 189.5,1564 189.8,1566.6 190,1569.1 190.3,1571.7 190.5,1574.2 190.8,1577 191.2,1579.9 191.5,1582.9 191.9,1585.9 192.2,1588.6 192.6,1591.3 193,1594.2 193.4,1597.5 193.9,1601.4 194.5,1606.1 195.3,1612 196.1,1619 197.1,1627 198.1,1635.9 199.2,1645.4 200.4,1655.4 201.5,1665.5 202.6,1675.7 203.7,1685.6 204.7,1695.5 205.8,1705.7 206.8,1716.1 207.9,1726.6 208.9,1737.2 209.9,1747.8 211,1758.4 212,1768.8 213.1,1779.3 214.2,1790.1 215.3,1800.9 216.4,1811.7 217.5,1822.3 218.5,1832.6 219.4,1842.6 220.3,1852 220.9,1860.4 221.4,1867.7 221.9,1874.5 222.3,1881.2 222.7,1888 223.2,1895.2 223.9,1903.4 224.8,1913 225.9,1924 227.4,1936 229,1948.7 230.7,1962.2 232.5,1976.1 234.1,1990 235.7,2003.9 237,2017 238,2030.1 239,2044 239.8,2057.8 240.6,2071.8 241.3,2085.3 242,2097.9 242.7,2110 243.4,2121 244.2,2130.8 244.8,2139.5 245.5,2147.2 246.2,2154.5 246.9,2161.5 247.7,2168.4 248.6,2175.5 249.7,2183 250.9,2190.8 252.2,2198.6 253.7,2206.4 255.2,2214.3 256.8,2222.1 258.5,2229.9 260.2,2237.8 262,2245.6 263.9,2253.5 265.8,2261.5 267.8,2269.6 269.9,2277.6 272,2285.5 274.2,2293.2 276.5,2300.7 278.8,2307.9 281.1,2314.8 283.4,2321.5 285.8,2328 288.2,2334.2 290.8,2340.3 293.5,2346.1 296.5,2351.9 299.7,2357.6 303.2,2363.3 307,2368.9 311,2374.4 315.3,2379.8 319.6,2385 324,2390 328.4,2394.7 332.8,2399.2 337.3,2403.5 341.8,2407.5 346.3,2411.3 350.9,2415 355.6,2418.5 360.3,2421.9 365.2,2425.2 370.1,2428.4 375.1,2431.6 380.2,2434.6 385.4,2437.6 390.6,2440.5 395.9,2443.3 401.2,2446.1 406.5,2448.7 411.7,2451.4 416.9,2453.9 422.1,2456.4 427.3,2458.8 432.5,2461.1 437.7,2463.4 442.9,2465.7 448.1,2467.8 453.3,2469.9 458.5,2472 463.7,2474 468.9,2475.9 474.1,2477.7 479.3,2479.5 484.4,2481.3 489.6,2482.9 494.9,2484.6 500.1,2486.1 505.3,2487.6 510.5,2489 515.7,2490.4 520.8,2491.6 526,2492.8 531.2,2493.9 536.4,2494.8 541.6,2495.7 546.8,2496.4 552,2497.1 557.2,2497.6 562.4,2498.1 567.6,2498.4 572.8,2498.7 578,2498.9 583.2,2498.9 588.4,2498.9 593.6,2498.7 598.8,2498.5 603.9,2498.2 609.1,2497.8 614.3,2497.4 619.5,2496.9 624.7,2496.4 629.9,2495.8 635,2495.1 640.2,2494.3 645.4,2493.5 650.5,2492.7 655.7,2491.7 660.9,2490.7 666.2,2489.6 671.6,2488.4 677.1,2487.1 682.5,2485.8 687.8,2484.4 693,2483 698,2481.6 702.6,2480.2 706.9,2478.9 710.6,2477.6 714.1,2476.5 717.4,2475.4 720.9,2474.3 724.6,2473.1 729,2472 734,2470.9 739.9,2469.8 746.6,2468.8 753.8,2467.9 761.3,2467.1 769,2466.4 776.8,2465.7 784.5,2465.2 792,2464.8 799.3,2464.4 806.6,2464.2 814,2464.1 821.3,2464 828.7,2464.1 836,2464.2 843.4,2464.4 850.7,2464.8 858,2465.2 865.3,2465.7 872.6,2466.3 879.9,2467 887.1,2467.8 894.4,2468.7 901.7,2469.6 909,2470.7 916.3,2471.8 923.6,2473 931,2474.4 938.3,2475.8 945.6,2477.3 953,2478.8 960.3,2480.4 967.6,2482.1 974.9,2483.8 982.2,2485.6 989.5,2487.5 996.8,2489.4 1004.1,2491.4 1011.4,2493.3 1018.7,2495.2 1026,2497 1033.3,2498.7 1040.6,2500.5 1047.9,2502.2 1055.3,2503.8 1062.6,2505.4 1069.9,2506.9 1077.2,2508.3 1084.5,2509.6 1091.8,2510.7 1099.1,2511.8 1106.5,2512.7 1113.8,2513.5 1121.1,2514.2 1128.4,2514.9 1135.7,2515.5 1143,2515.9 1150.5,2516.3 1158.2,2516.6 1166,2516.8 1173.7,2516.9 1181.2,2517 1188.4,2517 1195.1,2517 1201.1,2517 1206.2,2516.9 1210.7,2516.9 1214.7,2516.8 1218.3,2516.7 1221.7,2516.5 1225,2516.4 1228.4,2516.1 1231.9,2515.8 1235.5,2515.5 1238.9,2515.1 1242.2,2514.7 1245.4,2514.3 1248.8,2513.8 1252.3,2513.2 1255.9,2512.7 1260,2512 1264.4,2511.3 1269,2510.6 1273.8,2509.9 1278.6,2509.1 1283.8,2508.2 1289.1,2507.2 1294.5,2506.1 1300,2504.9 1305.7,2503.6 1311.7,2502.1 1317.9,2500.6 1324.2,2498.9 1330.5,2497.1 1336.7,2495.1 1342.8,2493 1348.6,2490.8 1354.3,2488.4 1359.9,2485.9 1365.4,2483.2 1370.8,2480.3 1376,2477.4 1381.2,2474.4 1386.2,2471.3 1390.9,2468.3 1395.5,2465.2 1399.8,2462.2 1403.9,2459.2 1407.9,2456.1 1411.8,2452.9 1415.6,2449.6 1419.4,2446.1 1423.2,2442.4 1427.1,2438.5 1430.8,2434.5 1434.4,2430.4 1438.1,2426.1 1441.7,2421.7 1445.3,2417 1448.8,2412 1452.4,2406.7 1456.1,2401 1459.9,2394.8 1463.6,2388.3 1467.4,2381.6 1471.1,2374.8 1474.7,2368 1478.3,2361.3 1481.8,2354.8 1485.2,2348.6 1488.7,2342.3 1492,2336.1 1495.4,2330 1498.7,2323.8 1501.8,2317.8 1504.9,2311.8 1507.8,2305.9 1510.5,2300.2 1513.2,2294.7 1515.7,2289.3 1518.2,2283.9 1520.5,2278.4 1522.7,2272.8 1525,2266.9 1527.1,2260.6 1529.3,2253.9 1531.3,2246.9 1533.3,2239.8 1535.1,2232.5 1536.9,2225 1538.7,2217.4 1540.3,2209.7 1541.8,2202 1543.3,2194.2 1544.7,2186.2 1546,2178.1 1547.2,2169.9 1548.4,2161.6 1549.5,2153.4 1550.6,2145.2 1551.6,2137 1552.5,2128.8 1553.4,2120.4 1554.3,2112.1 1555,2103.7 1555.8,2095.4 1556.5,2087.4 1557.3,2079.5 1558,2072.1 1558.7,2064.8 1559.5,2057.9 1560.2,2051.2 1560.8,2044.7 1561.5,2038.4 1562.2,2032.2 1562.8,2026.1 1563.5,2020 1564.2,2014 1564.8,2008.1 1565.5,2002.3 1566.1,1996.5 1566.7,1991 1567.4,1985.5 1567.9,1980.2 1568.5,1975 1569,1970 1569.5,1965 1569.9,1960.1 1570.4,1955.5 1570.8,1950.9 1571.2,1946.4 1571.6,1942.1 1572,1938 1572.4,1934.1 1572.7,1930.6 1573,1927.2 1573.3,1924 1573.5,1920.8 1573.8,1917.4 1574.2,1913.9 1574.5,1910 1574.8,1905.9 1575.2,1901.7 1575.5,1897.3 1575.9,1892.8 1576.3,1888.1 1576.7,1883.3 1577.1,1878.2 1577.6,1873 1578.1,1867.5 1578.7,1861.7 1579.3,1855.6 1579.9,1849.5 1580.5,1843.2 1581.1,1836.9 1581.8,1830.6 1582.5,1824.5 1583.3,1818.4 1584,1812.4 1584.8,1806.3 1585.7,1800.2 1586.5,1794.1 1587.3,1788 1588.2,1781.9 1589,1775.8 1589.8,1769.7 1590.5,1763.6 1591.3,1757.5 1592.1,1751.4 1592.9,1745.3 1593.7,1739.2 1594.6,1733.1 1595.6,1727 1596.6,1720.9 1597.7,1714.8 1598.9,1708.8 1600.1,1702.7 1601.3,1696.6 1602.5,1690.6 1603.8,1684.5 1605,1678.4 1606.3,1672.3 1607.5,1666.2 1608.8,1660.1 1610.1,1654.1 1611.3,1648 1612.6,1641.9 1613.8,1635.8 1614.9,1629.7 1616.1,1623.5 1617.2,1617 1618.3,1610.5 1619.3,1604 1620.3,1597.6 1621.3,1591.6 1622.2,1586 1623,1581 1623.7,1576.6 1624.4,1572.8 1625,1569.3 1625.6,1566.3 1626.2,1563.4 1626.9,1560.7 1627.6,1557.9 1628.4,1555.2 1629.4,1552.4 1630.4,1549.8 1631.4,1547.4 1632.6,1545 1633.8,1542.7 1635.2,1540.5 1636.7,1538.3 1638.4,1536.1 1640.2,1533.9 1642,1531.9 1644.1,1530 1646.2,1528 1648.6,1526 1651.1,1524 1653.9,1521.8 1657.1,1519.5 1660.5,1517 1664.3,1514.3 1668.4,1511.5 1672.7,1508.6 1677,1505.6 1681.3,1502.5 1685.5,1499.5 1689.4,1496.4 1693.3,1493.2 1697.2,1489.7 1701.2,1486.1 1705,1482.5 1708.9,1479.1 1712.5,1476.1 1716,1473.5 1719.1,1471.4 1722.1,1469.6 1724.9,1468.3 1727.7,1467.3 1730.3,1466.7 1732.8,1466.4 1735,1466.2 1736.9,1466 1738.3,1465.8" fill="none" stroke="#0a0a0a" stroke-width="4" stroke-linejoin="round" stroke-linecap="round"/>
<polyline points="68.7,2595.8 69.7,2596.3 71.2,2597.2 72.9,2598.3 74.9,2599.4 77,2600.6 79,2601.9 81.1,2603.2 83,2604.4 84.7,2605.5 86.5,2606.7 88.1,2607.9 89.8,2609.1 91.5,2610.4 93.2,2611.7 94.9,2613.2 96.7,2614.8 98.5,2616.5 100.3,2618.4 102.2,2620.3 104,2622.4 105.9,2624.6 107.7,2626.8 109.5,2629.1 111.3,2631.5 113.1,2633.8 114.9,2636.3 116.7,2638.7 118.5,2641.2 120.3,2643.8 122.1,2646.3 123.9,2648.9 125.7,2651.4 127.5,2653.9 129.3,2656.4 131.1,2658.8 132.8,2661.3 134.6,2663.8 136.4,2666.3 138.1,2668.9 139.9,2671.5 141.7,2674.1 143.5,2676.8 145.3,2679.5 147.2,2682.2 149,2684.9 150.8,2687.6 152.7,2690.3 154.5,2692.8 156.3,2695.3 158.1,2697.7 159.8,2700.1 161.6,2702.4 163.4,2704.7 165.2,2707 166.8,2709.2 168.5,2711.5 170.1,2713.7 171.6,2715.9 173.1,2718.1 174.5,2720.2 175.9,2722.4 177.2,2724.5 178.5,2726.7 179.6,2728.8 180.7,2730.9 181.7,2733 182.7,2735 183.6,2737.1 184.4,2739.1 185.2,2741.3 185.9,2743.5 186.7,2745.8 187.4,2748.2 188.1,2750.8 188.7,2753.4 189.3,2756.1 189.9,2758.9 190.4,2761.7 190.8,2764.4 191.3,2767.1 191.7,2769.8 192.1,2772.5 192.5,2775.2 192.9,2777.8 193.2,2780.5 193.6,2783.3 194,2785.9 194.3,2788.6 194.7,2791.3 195,2794 195.4,2796.7 195.7,2799.3 196.1,2802 196.4,2804.7 196.8,2807.4 197.1,2810 197.5,2812.7 197.8,2815.3 198.2,2818 198.5,2820.7 198.9,2823.4 199.3,2826 199.6,2828.7 200,2831.4 200.4,2834 200.7,2836.6 201,2839.2 201.4,2841.8 201.8,2844.4 202.1,2847.1 202.5,2850 202.9,2852.9 203.3,2855.8 203.6,2858.2 203.9,2860.6 204.3,2863.1 204.7,2866 205.2,2869.7 205.7,2874.2 206.5,2880 207.4,2887 208.4,2895.3 209.6,2904.5 210.8,2914.4 212.1,2924.6 213.4,2935 214.7,2945.5 216,2955.6 217.3,2965.6 218.6,2975.9 220,2986.3 221.3,2996.7 222.7,3007.3 224,3017.8 225.3,3028.4 226.5,3038.8 227.7,3049.4 228.8,3060.3 229.9,3071.4 231,3082.3 232.1,3093 233,3103.4 234,3113 234.8,3122 235.5,3129.6 236,3136.2 236.5,3142.1 236.9,3147.5 237.3,3152.9 237.8,3158.7 238.4,3165.3 239.2,3172.9 240.3,3181.8 241.5,3191.5 242.9,3201.8 244.3,3212.5 245.7,3223.4 247.1,3234.5 248.4,3245.4 249.5,3256 250.5,3266.4 251.4,3276.8 252.2,3287.3 252.9,3297.7 253.6,3308.1 254.3,3318.6 255.1,3329 255.9,3339.4 256.8,3349.9 257.8,3360.7 258.8,3371.5 259.8,3382.3 260.9,3392.8 262,3403.1 263.1,3413.1 264.2,3422.6 265.4,3431.4 266.5,3439.5 267.7,3447.3 268.9,3454.9 270.2,3462.3 271.6,3469.7 273.1,3477.1 274.7,3484.8 276.4,3492.6 278.3,3500.4 280.2,3508.2 282.3,3516 284.4,3523.8 286.6,3531.6 288.9,3539.4 291.2,3547.2 293.6,3555.1 296.1,3563.3 298.7,3571.6 301.4,3579.9 304.1,3587.9 306.8,3595.6 309.5,3602.9 312.1,3609.4 314.7,3615.4 317.1,3620.7 319.4,3625.5 321.8,3630 324.3,3634.2 326.9,3638.3 329.7,3642.5 332.9,3646.8 336.4,3651.2 340.2,3655.6 344.3,3659.9 348.4,3664.2 352.8,3668.3 357.2,3672.3 361.6,3676.2 366.1,3679.9 370.5,3683.4 375.1,3686.8 379.6,3690 384.3,3693.1 389,3696.2 393.7,3699.1 398.5,3702.1 403.5,3704.9 408.5,3707.8 413.6,3710.5 418.7,3713.3 424,3716 429.3,3718.6 434.5,3721.1 439.8,3723.6 445,3725.9 450.2,3728.3 455.4,3730.5 460.6,3732.7 465.8,3734.8 471,3736.8 476.2,3738.8 481.3,3740.6 486.6,3742.4 491.8,3744 497,3745.5 502.1,3747 507.3,3748.3 512.4,3749.6 517.6,3750.7 522.8,3751.9 528,3752.9 533.2,3753.9 538.4,3754.9 543.7,3755.8 548.9,3756.6 554.1,3757.3 559.3,3757.9 564.5,3758.4 569.7,3758.8 574.9,3759.1 580,3759.3 585.2,3759.4 590.3,3759.3 595.5,3759.2 600.6,3758.9 605.8,3758.6 611,3758.1 616.2,3757.5 621.4,3756.8 626.6,3756 631.9,3755.1 637.1,3754 642.4,3753 647.6,3751.9 652.8,3750.7 658,3749.5 663.2,3748.2 668.4,3746.9 673.7,3745.6 678.9,3744.2 684.1,3742.9 689.2,3741.7 694.3,3740.5 699.2,3739.5 704,3738.5 708.6,3737.6 713.1,3736.8 717.9,3736 722.8,3735.2 728.2,3734.4 733.9,3733.5 740.4,3732.6 747.2,3731.6 754.4,3730.6 761.9,3729.6 769.4,3728.7 777,3727.8 784.6,3727.1 792,3726.6 799.3,3726.2 806.6,3725.9 814,3725.8 821.3,3725.7 828.7,3725.8 836,3725.9 843.4,3726.2 850.7,3726.6 858,3727.1 865.3,3727.7 872.6,3728.5 879.9,3729.3 887.1,3730.3 894.4,3731.3 901.7,3732.4 909,3733.5 916.3,3734.8 923.6,3736 931,3737.4 938.3,3738.8 945.6,3740.3 953,3741.8 960.3,3743.4 967.6,3745.1 974.9,3746.8 982.2,3748.6 989.5,3750.5 996.8,3752.4 1004.1,3754.3 1011.4,3756.2 1018.7,3758 1026,3759.8 1033.3,3761.4 1040.6,3763.1 1047.9,3764.6 1055.3,3766.2 1062.6,3767.6 1069.9,3769 1077.2,3770.3 1084.5,3771.4 1091.8,3772.5 1099.1,3773.4 1106.5,3774.2 1113.8,3774.9 1121.1,3775.6 1128.4,3776.1 1135.7,3776.6 1143,3776.9 1150.5,3777.1 1158.2,3777.2 1166,3777.2 1173.8,3777.1 1181.3,3777 1188.5,3776.8 1195.2,3776.7 1201.1,3776.5 1206.1,3776.4 1210.4,3776.3 1214.1,3776.2 1217.6,3776.1 1220.7,3776 1223.8,3775.8 1227,3775.6 1230.6,3775.3 1234.2,3774.9 1237.7,3774.5 1241.2,3774.1 1244.7,3773.6 1248.2,3773 1251.9,3772.4 1255.8,3771.7 1260,3771 1264.5,3770.2 1269.2,3769.3 1274.1,3768.4 1279.2,3767.4 1284.3,3766.3 1289.5,3765.1 1294.7,3763.8 1299.9,3762.3 1305.1,3760.7 1310.4,3758.9 1315.7,3757 1321,3754.9 1326.3,3752.8 1331.6,3750.5 1336.8,3748.3 1342,3745.9 1347,3743.6 1352.1,3741.1 1357.1,3738.6 1362,3736 1366.9,3733.3 1371.7,3730.5 1376.4,3727.7 1381,3724.8 1385.4,3721.9 1389.6,3718.9 1393.9,3715.7 1398,3712.6 1402,3709.3 1405.9,3705.9 1409.7,3702.4 1413.5,3698.9 1417,3695.2 1420.4,3691.6 1423.7,3687.9 1426.8,3684.2 1429.9,3680.2 1433.1,3676 1436.2,3671.6 1439.4,3666.7 1442.7,3661.4 1446,3655.7 1449.3,3649.7 1452.5,3643.4 1455.8,3637 1459.1,3630.6 1462.4,3624.2 1465.6,3618 1468.9,3611.9 1472.3,3605.7 1475.6,3599.5 1479,3593.3 1482.3,3587.1 1485.5,3581 1488.6,3575.1 1491.6,3569.3 1494.3,3563.9 1497,3558.5 1499.5,3553.3 1501.9,3548.2 1504.3,3543 1506.5,3537.8 1508.7,3532.5 1510.9,3526.9 1513,3521.3 1515,3515.6 1516.9,3509.9 1518.8,3504 1520.5,3498.1 1522.3,3491.8 1523.9,3485.3 1525.5,3478.4 1527,3471 1528.4,3463.3 1529.7,3455.2 1531,3447 1532.1,3438.5 1533.3,3430.1 1534.4,3421.7 1535.4,3413.5 1536.3,3405.4 1537.2,3397.2 1538.1,3389.1 1538.9,3381 1539.7,3372.8 1540.4,3364.7 1541.2,3356.6 1541.9,3348.6 1542.6,3340.5 1543.3,3332.3 1544,3324.1 1544.7,3315.9 1545.4,3307.8 1546.1,3300 1546.8,3292.3 1547.6,3285 1548.3,3278.1 1549.1,3271.6 1549.9,3265.5 1550.7,3259.5 1551.5,3253.5 1552.3,3247.5 1553.1,3241.5 1554,3235.1 1554.8,3228.4 1555.7,3221.5 1556.5,3214.4 1557.4,3207.3 1558.2,3200.2 1559,3193.2 1559.8,3186.5 1560.5,3179.9 1561.1,3173.8 1561.6,3167.7 1562.1,3161.9 1562.6,3156.1 1563,3150.4 1563.5,3144.7 1564.1,3138.9 1564.7,3133 1565.3,3127 1566.1,3121 1566.9,3114.9 1567.7,3108.9 1568.5,3102.8 1569.3,3096.7 1570.2,3090.6 1571,3084.5 1571.8,3078.4 1572.6,3072.3 1573.4,3066.3 1574.2,3060.2 1575,3054.1 1575.9,3048 1576.7,3041.9 1577.6,3035.8 1578.6,3029.7 1579.5,3023.6 1580.5,3017.5 1581.6,3011.4 1582.6,3005.3 1583.6,2999.2 1584.7,2993.1 1585.7,2987 1586.7,2980.9 1587.7,2974.8 1588.7,2968.8 1589.7,2962.7 1590.7,2956.6 1591.7,2950.5 1592.7,2944.5 1593.8,2938.4 1595,2932.2 1596.2,2925.9 1597.4,2919.4 1598.7,2913.1 1600,2906.8 1601.3,2900.7 1602.5,2895 1603.7,2889.7 1604.8,2884.9 1605.8,2880.5 1606.8,2876.4 1607.8,2872.5 1608.8,2868.7 1609.7,2865 1610.6,2861.2 1611.6,2857.3 1612.6,2853.1 1613.6,2848.9 1614.6,2844.5 1615.7,2840.3 1616.7,2836.1 1617.8,2832.1 1619,2828.3 1620.2,2824.9 1621.4,2821.9 1622.6,2819.3 1623.8,2816.9 1625,2814.6 1626.3,2812.5 1627.8,2810.4 1629.5,2808.2 1631.5,2805.9 1634,2803.4 1636.6,2801 1639.6,2798.6 1642.7,2796.2 1646.1,2793.7 1649.6,2791.2 1653.3,2788.6 1656.9,2785.9 1660.7,2783 1664.9,2779.7 1669.2,2776.4 1673.5,2772.9 1677.8,2769.5 1682.1,2766 1686,2762.9 1689.6,2760 1693,2757.3 1696.4,2754.6 1699.7,2751.9 1702.9,2749.4 1705.8,2747.1 1708.4,2745.1 1710.6,2743.3 1712.3,2742" fill="none" stroke="#0a0a0a" stroke-width="4" stroke-linejoin="round" stroke-linecap="round"/>
<path d="M603.5 505L142.9 160M1219.5 337L1665 264M420.3 679.7L249.6 646.5M1331 792L1551.6 753.6M613 1164.5L555 1231M897.4 1166L1254 1235.6" stroke="#1c1c1c" stroke-width="2.8" fill="none"/>
<circle cx="142.9" cy="160" r="6.8" fill="#0a0a0a"/>
<circle cx="1665" cy="264" r="6.8" fill="#0a0a0a"/>
<circle cx="249.6" cy="646.5" r="6.8" fill="#0a0a0a"/>
<circle cx="1551.6" cy="753.6" r="6.8" fill="#0a0a0a"/>
<circle cx="555" cy="1231" r="6.8" fill="#0a0a0a"/>
<circle cx="1254" cy="1235.6" r="6.8" fill="#0a0a0a"/>
<path d="M585.7 1651L159.3 1455.7M1211.5 1672.5L1680 1513M460.7 2013L249.6 2025.3M1321.3 2062.8L1559.7 2020.4M703 2430.5L546.8 2506.6M900 2430.5L1231.7 2517.3" stroke="#1c1c1c" stroke-width="2.8" fill="none"/>
<circle cx="159.3" cy="1455.7" r="6.8" fill="#0a0a0a"/>
<circle cx="1680" cy="1513" r="6.8" fill="#0a0a0a"/>
<circle cx="249.6" cy="2025.3" r="6.8" fill="#0a0a0a"/>
<circle cx="1559.7" cy="2020.4" r="6.8" fill="#0a0a0a"/>
<circle cx="546.8" cy="2506.6" r="6.8" fill="#0a0a0a"/>
<circle cx="1231.7" cy="2517.3" r="6.8" fill="#0a0a0a"/>
<path d="M599.1 3003L141.4 2692.9M1216 2910L1683 2774.5M476.6 3277L262 3259M1339.6 3350L1543.5 3286M678.5 3677L591 3772.3M920.8 3675L1230.6 3777.3" stroke="#1c1c1c" stroke-width="2.8" fill="none"/>
<circle cx="141.4" cy="2692.9" r="6.8" fill="#0a0a0a"/>
<circle cx="1683" cy="2774.5" r="6.8" fill="#0a0a0a"/>
<circle cx="262" cy="3259" r="6.8" fill="#0a0a0a"/>
<circle cx="1543.5" cy="3286" r="6.8" fill="#0a0a0a"/>
<circle cx="591" cy="3772.3" r="6.8" fill="#0a0a0a"/>
<circle cx="1230.6" cy="3777.3" r="6.8" fill="#0a0a0a"/>
<rect x="605.5" y="210" width="291.5" height="293" fill="#fff" stroke="#1e1e1e" stroke-width="4.0"/>
<rect x="789.9" y="229.5" width="88.7" height="48.5" fill="#00dcff" stroke="#009eb7" stroke-width="2"/>
<text class="v" x="617" y="262.3" font-size="39.6" textLength="123" lengthAdjust="spacingAndGlyphs">C006</text>
<text class="v" x="616.6" y="318.6" font-size="39.6" textLength="53.3" lengthAdjust="spacingAndGlyphs">D:</text>
<text class="v" x="726.3" y="318.6" font-size="39.6" textLength="158.6" lengthAdjust="spacingAndGlyphs">-0.049</text>
<text class="v" x="616.6" y="372.4" font-size="39.6" textLength="81.2" lengthAdjust="spacingAndGlyphs">Dx:</text>
<text class="v" x="747.9" y="372.4" font-size="39.6" textLength="136.9" lengthAdjust="spacingAndGlyphs">0.039</text>
<text class="v" x="616.7" y="426.3" font-size="39.6" textLength="79.7" lengthAdjust="spacingAndGlyphs">Dy:</text>
<text class="v" x="726.3" y="426.3" font-size="39.6" textLength="158.2" lengthAdjust="spacingAndGlyphs">-0.006</text>
<text class="v" x="616.7" y="480.1" font-size="39.6" textLength="76.7" lengthAdjust="spacingAndGlyphs">Dz:</text>
<text class="v" x="726.3" y="480.1" font-size="39.6" textLength="158.6" lengthAdjust="spacingAndGlyphs">-0.028</text>
<rect x="922.8" y="210" width="294.7" height="293" fill="#fff" stroke="#1e1e1e" stroke-width="4.0"/>
<rect x="1109.2" y="229.5" width="89.7" height="48.5" fill="#00b4ff" stroke="#0081b7" stroke-width="2"/>
<text class="v" x="934.4" y="262.3" font-size="39.6" textLength="125.2" lengthAdjust="spacingAndGlyphs">C005</text>
<text class="v" x="934.1" y="318.6" font-size="39.6" textLength="53.9" lengthAdjust="spacingAndGlyphs">D:</text>
<text class="v" x="1045" y="318.6" font-size="39.6" textLength="159.9" lengthAdjust="spacingAndGlyphs">-0.066</text>
<text class="v" x="934.1" y="372.4" font-size="39.6" textLength="82.1" lengthAdjust="spacingAndGlyphs">Dx:</text>
<text class="v" x="1045" y="372.4" font-size="39.6" textLength="161.1" lengthAdjust="spacingAndGlyphs">-0.047</text>
<text class="v" x="934.2" y="426.3" font-size="39.6" textLength="80.6" lengthAdjust="spacingAndGlyphs">Dy:</text>
<text class="v" x="1066.8" y="426.3" font-size="39.6" textLength="139.2" lengthAdjust="spacingAndGlyphs">0.007</text>
<text class="v" x="934.2" y="480.1" font-size="39.6" textLength="77.6" lengthAdjust="spacingAndGlyphs">Dz:</text>
<text class="v" x="1045" y="480.1" font-size="39.6" textLength="159.9" lengthAdjust="spacingAndGlyphs">-0.046</text>
<rect x="422.3" y="543.2" width="294.7" height="294.8" fill="#fff" stroke="#1e1e1e" stroke-width="4.0"/>
<rect x="608.7" y="562.8" width="89.7" height="48.8" fill="#ffb400" stroke="#b78100" stroke-width="2"/>
<text class="v" x="433.9" y="595.8" font-size="39.8" textLength="125.6" lengthAdjust="spacingAndGlyphs">C003</text>
<text class="v" x="433.6" y="652.5" font-size="39.8" textLength="53.9" lengthAdjust="spacingAndGlyphs">D:</text>
<text class="v" x="566.3" y="652.5" font-size="39.8" textLength="138.4" lengthAdjust="spacingAndGlyphs">0.068</text>
<text class="v" x="433.6" y="706.6" font-size="39.8" textLength="82.1" lengthAdjust="spacingAndGlyphs">Dx:</text>
<text class="v" x="544.5" y="706.6" font-size="39.8" textLength="160.7" lengthAdjust="spacingAndGlyphs">-0.065</text>
<text class="v" x="433.7" y="760.8" font-size="39.8" textLength="80.6" lengthAdjust="spacingAndGlyphs">Dy:</text>
<text class="v" x="566.3" y="760.8" font-size="39.8" textLength="138.4" lengthAdjust="spacingAndGlyphs">0.009</text>
<text class="v" x="433.7" y="815" font-size="39.8" textLength="77.6" lengthAdjust="spacingAndGlyphs">Dz:</text>
<text class="v" x="566.3" y="815" font-size="39.8" textLength="138.4" lengthAdjust="spacingAndGlyphs">0.018</text>
<rect x="1035" y="547" width="294" height="294.9" fill="#fff" stroke="#1e1e1e" stroke-width="4.0"/>
<rect x="1220.9" y="566.6" width="89.5" height="48.8" fill="#ffff00" stroke="#b7b700" stroke-width="2"/>
<text class="v" x="1046.6" y="599.6" font-size="39.9" textLength="123.7" lengthAdjust="spacingAndGlyphs">C004</text>
<text class="v" x="1046.2" y="656.3" font-size="39.9" textLength="53.8" lengthAdjust="spacingAndGlyphs">D:</text>
<text class="v" x="1178.7" y="656.3" font-size="39.9" textLength="137.6" lengthAdjust="spacingAndGlyphs">0.026</text>
<text class="v" x="1046.2" y="710.5" font-size="39.9" textLength="81.9" lengthAdjust="spacingAndGlyphs">Dx:</text>
<text class="v" x="1178.7" y="710.5" font-size="39.9" textLength="137.6" lengthAdjust="spacingAndGlyphs">0.026</text>
<text class="v" x="1046.3" y="764.7" font-size="39.9" textLength="80.4" lengthAdjust="spacingAndGlyphs">Dy:</text>
<text class="v" x="1156.9" y="764.7" font-size="39.9" textLength="159.2" lengthAdjust="spacingAndGlyphs">-0.004</text>
<text class="v" x="1046.3" y="818.9" font-size="39.9" textLength="77.4" lengthAdjust="spacingAndGlyphs">Dz:</text>
<text class="v" x="1178.7" y="818.9" font-size="39.9" textLength="137.3" lengthAdjust="spacingAndGlyphs">0.004</text>
<rect x="570.6" y="868.5" width="293.9" height="294" fill="#fff" stroke="#1e1e1e" stroke-width="4.0"/>
<rect x="756.5" y="888.1" width="89.4" height="48.7" fill="#00b4ff" stroke="#0081b7" stroke-width="2"/>
<text class="v" x="582.2" y="921" font-size="39.7" textLength="125.5" lengthAdjust="spacingAndGlyphs">C002</text>
<text class="v" x="581.8" y="977.5" font-size="39.7" textLength="53.8" lengthAdjust="spacingAndGlyphs">D:</text>
<text class="v" x="692.4" y="977.5" font-size="39.7" textLength="160.1" lengthAdjust="spacingAndGlyphs">-0.081</text>
<text class="v" x="581.8" y="1031.5" font-size="39.7" textLength="81.9" lengthAdjust="spacingAndGlyphs">Dx:</text>
<text class="v" x="714.2" y="1031.5" font-size="39.7" textLength="138.8" lengthAdjust="spacingAndGlyphs">0.017</text>
<text class="v" x="581.9" y="1085.5" font-size="39.7" textLength="80.4" lengthAdjust="spacingAndGlyphs">Dy:</text>
<text class="v" x="692.4" y="1085.5" font-size="39.7" textLength="161" lengthAdjust="spacingAndGlyphs">-0.002</text>
<text class="v" x="581.9" y="1139.6" font-size="39.7" textLength="77.4" lengthAdjust="spacingAndGlyphs">Dz:</text>
<text class="v" x="692.4" y="1139.6" font-size="39.7" textLength="159.9" lengthAdjust="spacingAndGlyphs">-0.079</text>
<rect x="895.5" y="870" width="293.5" height="294" fill="#fff" stroke="#1e1e1e" stroke-width="4.0"/>
<rect x="1081.1" y="889.6" width="89.3" height="48.7" fill="#00ee14" stroke="#00ab0e" stroke-width="2"/>
<text class="v" x="907" y="922.5" font-size="39.7" textLength="124.5" lengthAdjust="spacingAndGlyphs">C001</text>
<text class="v" x="906.7" y="979" font-size="39.7" textLength="53.7" lengthAdjust="spacingAndGlyphs">D:</text>
<text class="v" x="1017.2" y="979" font-size="39.7" textLength="159" lengthAdjust="spacingAndGlyphs">-0.020</text>
<text class="v" x="906.7" y="1033" font-size="39.7" textLength="81.8" lengthAdjust="spacingAndGlyphs">Dx:</text>
<text class="v" x="1017.2" y="1033" font-size="39.7" textLength="158.9" lengthAdjust="spacingAndGlyphs">-0.004</text>
<text class="v" x="906.8" y="1087" font-size="39.7" textLength="80.3" lengthAdjust="spacingAndGlyphs">Dy:</text>
<text class="v" x="1038.9" y="1087" font-size="39.7" textLength="138.1" lengthAdjust="spacingAndGlyphs">0.001</text>
<text class="v" x="906.8" y="1141.1" font-size="39.7" textLength="77.2" lengthAdjust="spacingAndGlyphs">Dz:</text>
<text class="v" x="1017.2" y="1141.1" font-size="39.7" textLength="159.7" lengthAdjust="spacingAndGlyphs">-0.019</text>
<rect x="587.7" y="1469" width="298.3" height="298.5" fill="#fff" stroke="#1e1e1e" stroke-width="4.0"/>
<rect x="776.4" y="1488.9" width="90.7" height="49.4" fill="#00d8ff" stroke="#009bb7" stroke-width="2"/>
<text class="v" x="599.5" y="1522.3" font-size="40.3" textLength="125.8" lengthAdjust="spacingAndGlyphs">C006</text>
<text class="v" x="599.1" y="1579.6" font-size="40.3" textLength="54.6" lengthAdjust="spacingAndGlyphs">D:</text>
<text class="v" x="711.4" y="1579.6" font-size="40.3" textLength="163.3" lengthAdjust="spacingAndGlyphs">-0.052</text>
<text class="v" x="599.1" y="1634.5" font-size="40.3" textLength="83.1" lengthAdjust="spacingAndGlyphs">Dx:</text>
<text class="v" x="733.5" y="1634.5" font-size="40.3" textLength="139.6" lengthAdjust="spacingAndGlyphs">0.046</text>
<text class="v" x="599.2" y="1689.3" font-size="40.3" textLength="81.5" lengthAdjust="spacingAndGlyphs">Dy:</text>
<text class="v" x="711.4" y="1689.3" font-size="40.3" textLength="161.8" lengthAdjust="spacingAndGlyphs">-0.006</text>
<text class="v" x="599.2" y="1744.2" font-size="40.3" textLength="78.5" lengthAdjust="spacingAndGlyphs">Dz:</text>
<text class="v" x="711.4" y="1744.2" font-size="40.3" textLength="162.6" lengthAdjust="spacingAndGlyphs">-0.025</text>
<rect x="911.3" y="1465.5" width="298.2" height="297.5" fill="#fff" stroke="#1e1e1e" stroke-width="4.0"/>
<rect x="1099.9" y="1485.3" width="90.7" height="49.2" fill="#00f4ff" stroke="#00afb7" stroke-width="2"/>
<text class="v" x="923.1" y="1518.6" font-size="40.2" textLength="126.6" lengthAdjust="spacingAndGlyphs">C005</text>
<text class="v" x="922.7" y="1575.8" font-size="40.2" textLength="54.5" lengthAdjust="spacingAndGlyphs">D:</text>
<text class="v" x="1034.9" y="1575.8" font-size="40.2" textLength="161.5" lengthAdjust="spacingAndGlyphs">-0.040</text>
<text class="v" x="922.7" y="1630.4" font-size="40.2" textLength="83.1" lengthAdjust="spacingAndGlyphs">Dx:</text>
<text class="v" x="1034.9" y="1630.4" font-size="40.2" textLength="162.6" lengthAdjust="spacingAndGlyphs">-0.025</text>
<text class="v" x="922.8" y="1685.1" font-size="40.2" textLength="81.5" lengthAdjust="spacingAndGlyphs">Dy:</text>
<text class="v" x="1057" y="1685.1" font-size="40.2" textLength="140.8" lengthAdjust="spacingAndGlyphs">0.003</text>
<text class="v" x="922.8" y="1739.8" font-size="40.2" textLength="78.5" lengthAdjust="spacingAndGlyphs">Dz:</text>
<text class="v" x="1034.9" y="1739.8" font-size="40.2" textLength="163.3" lengthAdjust="spacingAndGlyphs">-0.032</text>
<rect x="462.7" y="1793.5" width="300.3" height="299" fill="#fff" stroke="#1e1e1e" stroke-width="4.0"/>
<rect x="652.6" y="1813.4" width="91.3" height="49.5" fill="#ffb400" stroke="#b78100" stroke-width="2"/>
<text class="v" x="474.6" y="1846.9" font-size="40.4" textLength="126.3" lengthAdjust="spacingAndGlyphs">C004</text>
<text class="v" x="474.2" y="1904.3" font-size="40.4" textLength="54.9" lengthAdjust="spacingAndGlyphs">D:</text>
<text class="v" x="609.4" y="1904.3" font-size="40.4" textLength="141.8" lengthAdjust="spacingAndGlyphs">0.067</text>
<text class="v" x="474.2" y="1959.3" font-size="40.4" textLength="83.6" lengthAdjust="spacingAndGlyphs">Dx:</text>
<text class="v" x="587.2" y="1959.3" font-size="40.4" textLength="163.7" lengthAdjust="spacingAndGlyphs">-0.065</text>
<text class="v" x="474.3" y="2014.2" font-size="40.4" textLength="82.1" lengthAdjust="spacingAndGlyphs">Dy:</text>
<text class="v" x="609.5" y="2014.2" font-size="40.4" textLength="141" lengthAdjust="spacingAndGlyphs">0.009</text>
<text class="v" x="474.3" y="2069.1" font-size="40.4" textLength="79" lengthAdjust="spacingAndGlyphs">Dz:</text>
<text class="v" x="609.4" y="2069.1" font-size="40.4" textLength="142.1" lengthAdjust="spacingAndGlyphs">0.012</text>
<rect x="1020.1" y="1800.5" width="299.2" height="300.5" fill="#fff" stroke="#1e1e1e" stroke-width="4.0"/>
<rect x="1209.3" y="1820.5" width="91" height="49.7" fill="#ffff00" stroke="#b7b700" stroke-width="2"/>
<text class="v" x="1031.9" y="1854.2" font-size="40.6" textLength="127.5" lengthAdjust="spacingAndGlyphs">C003</text>
<text class="v" x="1031.6" y="1911.9" font-size="40.6" textLength="54.7" lengthAdjust="spacingAndGlyphs">D:</text>
<text class="v" x="1166.3" y="1911.9" font-size="40.6" textLength="139.8" lengthAdjust="spacingAndGlyphs">0.030</text>
<text class="v" x="1031.6" y="1967.1" font-size="40.6" textLength="83.3" lengthAdjust="spacingAndGlyphs">Dx:</text>
<text class="v" x="1166.3" y="1967.1" font-size="40.6" textLength="140.5" lengthAdjust="spacingAndGlyphs">0.029</text>
<text class="v" x="1031.7" y="2022.3" font-size="40.6" textLength="81.8" lengthAdjust="spacingAndGlyphs">Dy:</text>
<text class="v" x="1144.2" y="2022.3" font-size="40.6" textLength="161.9" lengthAdjust="spacingAndGlyphs">-0.004</text>
<text class="v" x="1031.7" y="2077.5" font-size="40.6" textLength="78.7" lengthAdjust="spacingAndGlyphs">Dz:</text>
<text class="v" x="1166.3" y="2077.5" font-size="40.6" textLength="140" lengthAdjust="spacingAndGlyphs">0.006</text>
<rect x="577.7" y="2128.5" width="298.3" height="300" fill="#fff" stroke="#1e1e1e" stroke-width="4.0"/>
<rect x="766.4" y="2148.5" width="90.7" height="49.6" fill="#00b4ff" stroke="#0081b7" stroke-width="2"/>
<text class="v" x="589.5" y="2182.1" font-size="40.5" textLength="127.4" lengthAdjust="spacingAndGlyphs">C002</text>
<text class="v" x="589.1" y="2239.7" font-size="40.5" textLength="54.6" lengthAdjust="spacingAndGlyphs">D:</text>
<text class="v" x="701.4" y="2239.7" font-size="40.5" textLength="161.8" lengthAdjust="spacingAndGlyphs">-0.066</text>
<text class="v" x="589.1" y="2294.8" font-size="40.5" textLength="83.1" lengthAdjust="spacingAndGlyphs">Dx:</text>
<text class="v" x="723.5" y="2294.8" font-size="40.5" textLength="141.1" lengthAdjust="spacingAndGlyphs">0.012</text>
<text class="v" x="589.2" y="2349.9" font-size="40.5" textLength="81.5" lengthAdjust="spacingAndGlyphs">Dy:</text>
<text class="v" x="701.4" y="2349.9" font-size="40.5" textLength="163.3" lengthAdjust="spacingAndGlyphs">-0.002</text>
<text class="v" x="589.2" y="2405.1" font-size="40.5" textLength="78.5" lengthAdjust="spacingAndGlyphs">Dz:</text>
<text class="v" x="701.4" y="2405.1" font-size="40.5" textLength="162.6" lengthAdjust="spacingAndGlyphs">-0.065</text>
<rect x="898" y="2128.5" width="301.5" height="300" fill="#fff" stroke="#1e1e1e" stroke-width="4.0"/>
<rect x="1088.7" y="2148.5" width="91.7" height="49.6" fill="#00f8ff" stroke="#00b2b7" stroke-width="2"/>
<text class="v" x="909.9" y="2182.1" font-size="40.5" textLength="127.9" lengthAdjust="spacingAndGlyphs">C001</text>
<text class="v" x="909.6" y="2239.7" font-size="40.5" textLength="55.1" lengthAdjust="spacingAndGlyphs">D:</text>
<text class="v" x="1023" y="2239.7" font-size="40.5" textLength="163.3" lengthAdjust="spacingAndGlyphs">-0.030</text>
<text class="v" x="909.6" y="2294.8" font-size="40.5" textLength="84" lengthAdjust="spacingAndGlyphs">Dx:</text>
<text class="v" x="1023" y="2294.8" font-size="40.5" textLength="163.1" lengthAdjust="spacingAndGlyphs">-0.004</text>
<text class="v" x="909.7" y="2349.9" font-size="40.5" textLength="82.4" lengthAdjust="spacingAndGlyphs">Dy:</text>
<text class="v" x="1045.3" y="2349.9" font-size="40.5" textLength="141.8" lengthAdjust="spacingAndGlyphs">0.001</text>
<text class="v" x="909.7" y="2405.1" font-size="40.5" textLength="79.3" lengthAdjust="spacingAndGlyphs">Dz:</text>
<text class="v" x="1023" y="2405.1" font-size="40.5" textLength="163.3" lengthAdjust="spacingAndGlyphs">-0.030</text>
<rect x="601.1" y="2708" width="290.5" height="293" fill="#fff" stroke="#1e1e1e" stroke-width="4.0"/>
<rect x="784.8" y="2727.5" width="88.4" height="48.5" fill="#00d8ff" stroke="#009bb7" stroke-width="2"/>
<text class="v" x="612.5" y="2760.3" font-size="39.6" textLength="123.4" lengthAdjust="spacingAndGlyphs">C005</text>
<text class="v" x="612.2" y="2816.6" font-size="39.6" textLength="53.2" lengthAdjust="spacingAndGlyphs">D:</text>
<text class="v" x="721.5" y="2816.6" font-size="39.6" textLength="158.3" lengthAdjust="spacingAndGlyphs">-0.051</text>
<text class="v" x="612.2" y="2870.4" font-size="39.6" textLength="81" lengthAdjust="spacingAndGlyphs">Dx:</text>
<text class="v" x="743" y="2870.4" font-size="39.6" textLength="137.5" lengthAdjust="spacingAndGlyphs">0.042</text>
<text class="v" x="612.3" y="2924.3" font-size="39.6" textLength="79.5" lengthAdjust="spacingAndGlyphs">Dy:</text>
<text class="v" x="721.5" y="2924.3" font-size="39.6" textLength="157.6" lengthAdjust="spacingAndGlyphs">-0.006</text>
<text class="v" x="612.3" y="2978.2" font-size="39.6" textLength="76.5" lengthAdjust="spacingAndGlyphs">Dz:</text>
<text class="v" x="721.5" y="2978.2" font-size="39.6" textLength="158.1" lengthAdjust="spacingAndGlyphs">-0.028</text>
<rect x="922.6" y="2708" width="291.4" height="293" fill="#fff" stroke="#1e1e1e" stroke-width="4.0"/>
<rect x="1106.9" y="2727.5" width="88.7" height="48.5" fill="#00d2ff" stroke="#0097b7" stroke-width="2"/>
<text class="v" x="934.1" y="2760.3" font-size="39.6" textLength="122.7" lengthAdjust="spacingAndGlyphs">C004</text>
<text class="v" x="933.7" y="2816.6" font-size="39.6" textLength="53.3" lengthAdjust="spacingAndGlyphs">D:</text>
<text class="v" x="1043.4" y="2816.6" font-size="39.6" textLength="158.1" lengthAdjust="spacingAndGlyphs">-0.046</text>
<text class="v" x="933.7" y="2870.4" font-size="39.6" textLength="81.2" lengthAdjust="spacingAndGlyphs">Dx:</text>
<text class="v" x="1043.4" y="2870.4" font-size="39.6" textLength="159.4" lengthAdjust="spacingAndGlyphs">-0.033</text>
<text class="v" x="933.8" y="2924.3" font-size="39.6" textLength="79.7" lengthAdjust="spacingAndGlyphs">Dy:</text>
<text class="v" x="1065" y="2924.3" font-size="39.6" textLength="137.2" lengthAdjust="spacingAndGlyphs">0.005</text>
<text class="v" x="933.8" y="2978.2" font-size="39.6" textLength="76.7" lengthAdjust="spacingAndGlyphs">Dz:</text>
<text class="v" x="1043.4" y="2978.2" font-size="39.6" textLength="159.6" lengthAdjust="spacingAndGlyphs">-0.032</text>
<rect x="478.6" y="3056.5" width="292.1" height="293.5" fill="#fff" stroke="#1e1e1e" stroke-width="4.0"/>
<rect x="663.3" y="3076" width="88.9" height="48.6" fill="#ffb000" stroke="#b77e00" stroke-width="2"/>
<text class="v" x="490.1" y="3108.9" font-size="39.7" textLength="124.5" lengthAdjust="spacingAndGlyphs">C003</text>
<text class="v" x="489.8" y="3165.3" font-size="39.7" textLength="53.4" lengthAdjust="spacingAndGlyphs">D:</text>
<text class="v" x="621.4" y="3165.3" font-size="39.7" textLength="136.4" lengthAdjust="spacingAndGlyphs">0.074</text>
<text class="v" x="489.8" y="3219.2" font-size="39.7" textLength="81.4" lengthAdjust="spacingAndGlyphs">Dx:</text>
<text class="v" x="599.7" y="3219.2" font-size="39.7" textLength="159.8" lengthAdjust="spacingAndGlyphs">-0.073</text>
<text class="v" x="489.9" y="3273.2" font-size="39.7" textLength="79.9" lengthAdjust="spacingAndGlyphs">Dy:</text>
<text class="v" x="621.4" y="3273.2" font-size="39.7" textLength="136.6" lengthAdjust="spacingAndGlyphs">0.010</text>
<text class="v" x="489.9" y="3327.1" font-size="39.7" textLength="76.9" lengthAdjust="spacingAndGlyphs">Dz:</text>
<text class="v" x="621.3" y="3327.1" font-size="39.7" textLength="138" lengthAdjust="spacingAndGlyphs">0.003</text>
<rect x="1045.6" y="3056.5" width="292" height="293.5" fill="#fff" stroke="#1e1e1e" stroke-width="4.0"/>
<rect x="1230.3" y="3076" width="88.8" height="48.6" fill="#ffff00" stroke="#b7b700" stroke-width="2"/>
<text class="v" x="1057.1" y="3108.9" font-size="39.7" textLength="124.7" lengthAdjust="spacingAndGlyphs">C002</text>
<text class="v" x="1056.8" y="3165.3" font-size="39.7" textLength="53.4" lengthAdjust="spacingAndGlyphs">D:</text>
<text class="v" x="1188.3" y="3165.3" font-size="39.7" textLength="137.5" lengthAdjust="spacingAndGlyphs">0.025</text>
<text class="v" x="1056.8" y="3219.2" font-size="39.7" textLength="81.4" lengthAdjust="spacingAndGlyphs">Dx:</text>
<text class="v" x="1188.3" y="3219.2" font-size="39.7" textLength="137.5" lengthAdjust="spacingAndGlyphs">0.025</text>
<text class="v" x="1056.8" y="3273.2" font-size="39.7" textLength="79.9" lengthAdjust="spacingAndGlyphs">Dy:</text>
<text class="v" x="1166.6" y="3273.2" font-size="39.7" textLength="159.7" lengthAdjust="spacingAndGlyphs">-0.003</text>
<text class="v" x="1056.8" y="3327.1" font-size="39.7" textLength="76.9" lengthAdjust="spacingAndGlyphs">Dz:</text>
<text class="v" x="1188.3" y="3327.1" font-size="39.7" textLength="138" lengthAdjust="spacingAndGlyphs">0.003</text>
<rect x="594" y="3382.5" width="291.7" height="292.5" fill="#fff" stroke="#1e1e1e" stroke-width="4.0"/>
<rect x="778.5" y="3402" width="88.8" height="48.4" fill="#00b4ff" stroke="#0081b7" stroke-width="2"/>
<text class="v" x="605.5" y="3434.7" font-size="39.5" textLength="123.1" lengthAdjust="spacingAndGlyphs">C006</text>
<text class="v" x="605.1" y="3490.9" font-size="39.5" textLength="53.4" lengthAdjust="spacingAndGlyphs">D:</text>
<text class="v" x="714.9" y="3490.9" font-size="39.5" textLength="159.1" lengthAdjust="spacingAndGlyphs">-0.075</text>
<text class="v" x="605.1" y="3544.7" font-size="39.5" textLength="81.3" lengthAdjust="spacingAndGlyphs">Dx:</text>
<text class="v" x="714.9" y="3544.7" font-size="39.5" textLength="158" lengthAdjust="spacingAndGlyphs">-0.000</text>
<text class="v" x="605.2" y="3598.4" font-size="39.5" textLength="79.8" lengthAdjust="spacingAndGlyphs">Dy:</text>
<text class="v" x="736.6" y="3598.4" font-size="39.5" textLength="136.4" lengthAdjust="spacingAndGlyphs">0.000</text>
<text class="v" x="605.2" y="3652.2" font-size="39.5" textLength="76.8" lengthAdjust="spacingAndGlyphs">Dz:</text>
<text class="v" x="714.9" y="3652.2" font-size="39.5" textLength="159.1" lengthAdjust="spacingAndGlyphs">-0.075</text>
<rect x="919.7" y="3380.5" width="290.5" height="292.5" fill="#fff" stroke="#1e1e1e" stroke-width="4.0"/>
<rect x="1103.4" y="3400" width="88.4" height="48.4" fill="#00f4ff" stroke="#00afb7" stroke-width="2"/>
<text class="v" x="931.1" y="3432.7" font-size="39.5" textLength="123.3" lengthAdjust="spacingAndGlyphs">C001</text>
<text class="v" x="930.8" y="3488.9" font-size="39.5" textLength="53.2" lengthAdjust="spacingAndGlyphs">D:</text>
<text class="v" x="1040.1" y="3488.9" font-size="39.5" textLength="157.3" lengthAdjust="spacingAndGlyphs">-0.024</text>
<text class="v" x="930.8" y="3542.7" font-size="39.5" textLength="81" lengthAdjust="spacingAndGlyphs">Dx:</text>
<text class="v" x="1040.1" y="3542.7" font-size="39.5" textLength="159.1" lengthAdjust="spacingAndGlyphs">-0.002</text>
<text class="v" x="930.9" y="3596.4" font-size="39.5" textLength="79.5" lengthAdjust="spacingAndGlyphs">Dy:</text>
<text class="v" x="1061.7" y="3596.4" font-size="39.5" textLength="135.8" lengthAdjust="spacingAndGlyphs">0.000</text>
<text class="v" x="930.9" y="3650.2" font-size="39.5" textLength="76.5" lengthAdjust="spacingAndGlyphs">Dz:</text>
<text class="v" x="1040.1" y="3650.2" font-size="39.5" textLength="157.3" lengthAdjust="spacingAndGlyphs">-0.024</text>
<text class="t" transform="translate(131.3 1097) rotate(-90)" x="-3.5" y="0" font-size="112" textLength="383.4" lengthAdjust="spacingAndGlyphs">Section</text>
<text class="t" transform="translate(131.3 680.8) rotate(-90)" x="-7.6" y="0" font-size="112" textLength="291.8" lengthAdjust="spacingAndGlyphs">plane</text>
<text class="t" transform="translate(131.3 367.6) rotate(-90)" x="-0.8" y="0" font-size="112" textLength="56.6" lengthAdjust="spacingAndGlyphs">γ</text>
<text class="t" style="font-weight:normal" stroke="#000" stroke-width="1.6" transform="translate(162.3 302.4) rotate(-90)" x="-6" y="0" font-size="76" textLength="42.2" lengthAdjust="spacingAndGlyphs">1</text>
<text class="t" transform="translate(120.4 2337.2) rotate(-90)" x="-3.5" y="0" font-size="112" textLength="384.3" lengthAdjust="spacingAndGlyphs">Section</text>
<text class="t" transform="translate(120.4 1918.5) rotate(-90)" x="-7.5" y="0" font-size="112" textLength="290.5" lengthAdjust="spacingAndGlyphs">plane</text>
<text class="t" transform="translate(120.4 1605.7) rotate(-90)" x="-0.8" y="0" font-size="112" textLength="55.7" lengthAdjust="spacingAndGlyphs">γ</text>
<text class="t" style="font-weight:normal" stroke="#000" stroke-width="1.6" transform="translate(151.4 1543.3) rotate(-90)" x="-4.1" y="0" font-size="76" textLength="42.3" lengthAdjust="spacingAndGlyphs">2</text>
<text class="t" transform="translate(134 3620.3) rotate(-90)" x="-3.5" y="0" font-size="112" textLength="385.5" lengthAdjust="spacingAndGlyphs">Section</text>
<text class="t" transform="translate(134 3202.3) rotate(-90)" x="-7.6" y="0" font-size="112" textLength="292.5" lengthAdjust="spacingAndGlyphs">plane</text>
<text class="t" transform="translate(134 2883) rotate(-90)" x="-0.8" y="0" font-size="112" textLength="55.5" lengthAdjust="spacingAndGlyphs">γ</text>
<text class="t" style="font-weight:normal" stroke="#000" stroke-width="1.6" transform="translate(162.7 2825) rotate(-90)" x="-3" y="0" font-size="76" textLength="40.5" lengthAdjust="spacingAndGlyphs">3</text>
<linearGradient id="h0" gradientUnits="userSpaceOnUse" x1="0" y1="100.8" x2="0" y2="1262">
<stop offset="0.0000" stop-color="#c80000"/><stop offset="0.0498" stop-color="#c80000"/>
<stop offset="0.0536" stop-color="#ff1e00"/><stop offset="0.0994" stop-color="#ff1e00"/>
<stop offset="0.1041" stop-color="#ff4600"/><stop offset="0.1499" stop-color="#ff4600"/>
<stop offset="0.1547" stop-color="#ff6400"/><stop offset="0.2005" stop-color="#ff6400"/>
<stop offset="0.2052" stop-color="#ff8200"/><stop offset="0.2510" stop-color="#ff8200"/>
<stop offset="0.2558" stop-color="#ffa000"/><stop offset="0.3016" stop-color="#ffa000"/>
<stop offset="0.3063" stop-color="#ffc000"/><stop offset="0.3521" stop-color="#ffc000"/>
<stop offset="0.3569" stop-color="#ffe000"/><stop offset="0.4027" stop-color="#ffe000"/>
<stop offset="0.4074" stop-color="#ffff00"/><stop offset="0.4532" stop-color="#ffff00"/>
<stop offset="0.4580" stop-color="#00ff00"/><stop offset="0.5427" stop-color="#00ff00"/>
<stop offset="0.5474" stop-color="#00ffff"/><stop offset="0.5932" stop-color="#00ffff"/>
<stop offset="0.5979" stop-color="#00e0ff"/><stop offset="0.6437" stop-color="#00e0ff"/>
<stop offset="0.6485" stop-color="#00c0ff"/><stop offset="0.6943" stop-color="#00c0ff"/>
<stop offset="0.6990" stop-color="#00a0ff"/><stop offset="0.7448" stop-color="#00a0ff"/>
<stop offset="0.7496" stop-color="#0080ff"/><stop offset="0.7954" stop-color="#0080ff"/>
<stop offset="0.8001" stop-color="#0060ff"/><stop offset="0.8459" stop-color="#0060ff"/>
<stop offset="0.8507" stop-color="#0030ff"/><stop offset="0.8965" stop-color="#0030ff"/>
<stop offset="0.9012" stop-color="#0008ff"/><stop offset="0.9470" stop-color="#0008ff"/>
<stop offset="0.9518" stop-color="#000078"/><stop offset="1.0000" stop-color="#000078"/>
</linearGradient>
<rect x="2081" y="100.8" width="102.3" height="1161.2" fill="#d6dde6"/>
<rect x="2081" y="100.8" width="102.3" height="57.8" fill="#c80000"/>
<rect x="2081" y="163" width="102.3" height="53.2" fill="#ff1e00"/>
<rect x="2081" y="221.7" width="102.3" height="53.2" fill="#ff4600"/>
<rect x="2081" y="280.4" width="102.3" height="53.2" fill="#ff6400"/>
<rect x="2081" y="339.1" width="102.3" height="53.2" fill="#ff8200"/>
<rect x="2081" y="397.8" width="102.3" height="53.2" fill="#ffa000"/>
<rect x="2081" y="456.5" width="102.3" height="53.2" fill="#ffc000"/>
<rect x="2081" y="515.2" width="102.3" height="53.2" fill="#ffe000"/>
<rect x="2081" y="573.9" width="102.3" height="53.2" fill="#ffff00"/>
<rect x="2081" y="632.6" width="102.3" height="98.4" fill="#00ff00"/>
<rect x="2081" y="736.4" width="102.3" height="53.2" fill="#00ffff"/>
<rect x="2081" y="795.1" width="102.3" height="53.2" fill="#00e0ff"/>
<rect x="2081" y="853.8" width="102.3" height="53.2" fill="#00c0ff"/>
<rect x="2081" y="912.5" width="102.3" height="53.2" fill="#00a0ff"/>
<rect x="2081" y="971.2" width="102.3" height="53.2" fill="#0080ff"/>
<rect x="2081" y="1029.9" width="102.3" height="53.2" fill="#0060ff"/>
<rect x="2081" y="1088.6" width="102.3" height="53.2" fill="#0030ff"/>
<rect x="2081" y="1147.3" width="102.3" height="53.2" fill="#0008ff"/>
<rect x="2081" y="1206" width="102.3" height="56" fill="#000078"/>
<path d="M2044 100.8H2415M2044 1262.7H2415" stroke="#0a0a0a" stroke-width="4.6" fill="none"/>
<path d="M2193 265.6H2415M2193 370.3H2415M2193 474.5H2415M2193 578.7H2415M2193 680H2415M2193 784.5H2415M2193 889H2415M2193 993H2415M2193 1097.5H2415" stroke="#0a0a0a" stroke-width="8.4" fill="none"/>
<polyline points="2213,161 2214,340 2215.8,370.3 2216.7,379.5 2229.6,392.4 2253.5,402.5 2279.2,419 2262.7,431.9 2292,442 2240.6,450.3 2228.7,459.4 2235,466.8 2268.2,474 2270,485 2305,493.4 2275.5,506.3 2279.2,512.7 2387.6,514.6 2373,529.3 2354.6,538.5 2290.2,553 2242.5,567.9 2237,578.9 2238.8,591.8 2259,610 2308.6,626.7 2334.4,635.9 2328.8,652.4 2373,669 2327,680 2286.6,702 2371,722.2 2351,733.2 2308.6,742.4 2257,753.5 2275.5,767.6 2246,785 2249.8,793.3 2371,805.2 2327,813.5 2299.4,820.9 2290.2,841 2283,850 2310.5,857.6 2262.7,868.6 2310.5,879.7 2268.2,889.8 2257,910.9 2216.7,912.7 2214,933 2214,1202" fill="none" stroke="url(#h0)" stroke-width="8" stroke-linejoin="round"/>
<text class="v" transform="translate(1803.1 99.4) scale(0.6885 0.8964)" font-size="100" stroke="url(#gu0)" stroke-width="1.6">[</text>
<text class="v" transform="translate(1991.8 99.4) scale(0.6942 0.8964)" font-size="100" stroke="url(#gu0)" stroke-width="1.6">]</text>
<text class="v" transform="translate(1831.2 93.6) scale(0.7906 0.7982)" font-size="100" stroke="url(#gu0)" stroke-width="1.6">mm</text>
<text class="v" x="1800.1" y="180.9" font-size="58" textLength="241.5" lengthAdjust="spacingAndGlyphs" stroke="url(#gu0)" stroke-width="1.2">0.200</text>
<text class="v" x="1800" y="239.5" font-size="58" textLength="244.1" lengthAdjust="spacingAndGlyphs" stroke="url(#gu0)" stroke-width="1.2">0.177</text>
<text class="v" x="1800" y="298.1" font-size="58" textLength="243.3" lengthAdjust="spacingAndGlyphs" stroke="url(#gu0)" stroke-width="1.2">0.155</text>
<text class="v" x="1800" y="356.7" font-size="58" textLength="244.1" lengthAdjust="spacingAndGlyphs" stroke="url(#gu0)" stroke-width="1.2">0.133</text>
<text class="v" x="1800.1" y="415.3" font-size="58" textLength="241.5" lengthAdjust="spacingAndGlyphs" stroke="url(#gu0)" stroke-width="1.2">0.110</text>
<text class="v" x="1800.1" y="473.9" font-size="58" textLength="242.7" lengthAdjust="spacingAndGlyphs" stroke="url(#gu0)" stroke-width="1.2">0.088</text>
<text class="v" x="1800" y="532.5" font-size="58" textLength="243.3" lengthAdjust="spacingAndGlyphs" stroke="url(#gu0)" stroke-width="1.2">0.065</text>
<text class="v" x="1800" y="591.1" font-size="58" textLength="244.1" lengthAdjust="spacingAndGlyphs" stroke="url(#gu0)" stroke-width="1.2">0.043</text>
<text class="v" x="1800.1" y="649.7" font-size="58" textLength="241.5" lengthAdjust="spacingAndGlyphs" stroke="url(#gu0)" stroke-width="1.2">0.020</text>
<text class="v" x="1799.4" y="754" font-size="58.1" textLength="277.6" lengthAdjust="spacingAndGlyphs" stroke="url(#gu0)" stroke-width="1.2">-0.020</text>
<text class="v" x="1799.4" y="812.7" font-size="58.1" textLength="280.2" lengthAdjust="spacingAndGlyphs" stroke="url(#gu0)" stroke-width="1.2">-0.043</text>
<text class="v" x="1799.4" y="871.4" font-size="58.1" textLength="279.4" lengthAdjust="spacingAndGlyphs" stroke="url(#gu0)" stroke-width="1.2">-0.065</text>
<text class="v" x="1799.4" y="930.1" font-size="58.1" textLength="278.8" lengthAdjust="spacingAndGlyphs" stroke="url(#gu0)" stroke-width="1.2">-0.088</text>
<text class="v" x="1799.4" y="988.8" font-size="58.1" textLength="277.6" lengthAdjust="spacingAndGlyphs" stroke="url(#gu0)" stroke-width="1.2">-0.110</text>
<text class="v" x="1799.4" y="1047.5" font-size="58.1" textLength="280.2" lengthAdjust="spacingAndGlyphs" stroke="url(#gu0)" stroke-width="1.2">-0.133</text>
<text class="v" x="1799.4" y="1106.2" font-size="58.1" textLength="279.4" lengthAdjust="spacingAndGlyphs" stroke="url(#gu0)" stroke-width="1.2">-0.155</text>
<text class="v" x="1799.4" y="1164.9" font-size="58.1" textLength="280.2" lengthAdjust="spacingAndGlyphs" stroke="url(#gu0)" stroke-width="1.2">-0.177</text>
<text class="v" x="1799.4" y="1223.6" font-size="58.1" textLength="277.6" lengthAdjust="spacingAndGlyphs" stroke="url(#gu0)" stroke-width="1.2">-0.200</text>
<linearGradient id="h1" gradientUnits="userSpaceOnUse" x1="0" y1="1351.3" x2="0" y2="2530.7">
<stop offset="0.0000" stop-color="#c80000"/><stop offset="0.0498" stop-color="#c80000"/>
<stop offset="0.0554" stop-color="#ff1e00"/><stop offset="0.1011" stop-color="#ff1e00"/>
<stop offset="0.1057" stop-color="#ff4600"/><stop offset="0.1514" stop-color="#ff4600"/>
<stop offset="0.1561" stop-color="#ff6400"/><stop offset="0.2018" stop-color="#ff6400"/>
<stop offset="0.2065" stop-color="#ff8200"/><stop offset="0.2522" stop-color="#ff8200"/>
<stop offset="0.2568" stop-color="#ffa000"/><stop offset="0.3025" stop-color="#ffa000"/>
<stop offset="0.3072" stop-color="#ffc000"/><stop offset="0.3529" stop-color="#ffc000"/>
<stop offset="0.3576" stop-color="#ffe000"/><stop offset="0.4033" stop-color="#ffe000"/>
<stop offset="0.4079" stop-color="#ffff00"/><stop offset="0.4536" stop-color="#ffff00"/>
<stop offset="0.4588" stop-color="#00ff00"/><stop offset="0.5424" stop-color="#00ff00"/>
<stop offset="0.5481" stop-color="#00ffff"/><stop offset="0.5939" stop-color="#00ffff"/>
<stop offset="0.5986" stop-color="#00e0ff"/><stop offset="0.6445" stop-color="#00e0ff"/>
<stop offset="0.6491" stop-color="#00c0ff"/><stop offset="0.6950" stop-color="#00c0ff"/>
<stop offset="0.6997" stop-color="#00a0ff"/><stop offset="0.7455" stop-color="#00a0ff"/>
<stop offset="0.7502" stop-color="#0080ff"/><stop offset="0.7961" stop-color="#0080ff"/>
<stop offset="0.8007" stop-color="#0060ff"/><stop offset="0.8466" stop-color="#0060ff"/>
<stop offset="0.8513" stop-color="#0030ff"/><stop offset="0.8972" stop-color="#0030ff"/>
<stop offset="0.9018" stop-color="#0008ff"/><stop offset="0.9477" stop-color="#0008ff"/>
<stop offset="0.9523" stop-color="#000078"/><stop offset="1.0000" stop-color="#000078"/>
</linearGradient>
<rect x="2092" y="1351.3" width="100" height="1179.4" fill="#d6dde6"/>
<rect x="2092" y="1351.3" width="100" height="58.7" fill="#c80000"/>
<rect x="2092" y="1416.6" width="100" height="53.9" fill="#ff1e00"/>
<rect x="2092" y="1476" width="100" height="53.9" fill="#ff4600"/>
<rect x="2092" y="1535.4" width="100" height="53.9" fill="#ff6400"/>
<rect x="2092" y="1594.8" width="100" height="53.9" fill="#ff8200"/>
<rect x="2092" y="1654.2" width="100" height="53.9" fill="#ffa000"/>
<rect x="2092" y="1713.6" width="100" height="53.9" fill="#ffc000"/>
<rect x="2092" y="1773" width="100" height="53.9" fill="#ffe000"/>
<rect x="2092" y="1832.4" width="100" height="53.9" fill="#ffff00"/>
<rect x="2092" y="1892.4" width="100" height="98.6" fill="#00ff00"/>
<rect x="2092" y="1997.7" width="100" height="54.1" fill="#00ffff"/>
<rect x="2092" y="2057.3" width="100" height="54.1" fill="#00e0ff"/>
<rect x="2092" y="2116.9" width="100" height="54.1" fill="#00c0ff"/>
<rect x="2092" y="2176.5" width="100" height="54.1" fill="#00a0ff"/>
<rect x="2092" y="2236.1" width="100" height="54.1" fill="#0080ff"/>
<rect x="2092" y="2295.7" width="100" height="54.1" fill="#0060ff"/>
<rect x="2092" y="2355.3" width="100" height="54.1" fill="#0030ff"/>
<rect x="2092" y="2414.9" width="100" height="54.1" fill="#0008ff"/>
<rect x="2092" y="2474.5" width="100" height="56.2" fill="#000078"/>
<path d="M2056 1351.3H2418.7M2056 2531.6H2418.7" stroke="#0a0a0a" stroke-width="4.6" fill="none"/>
<path d="M2201 1520H2419M2201 1626H2419M2201 1732H2419M2201 1837.3H2419M2201 1940H2419M2201 2045.8H2419M2201 2151.3H2419M2201 2257.8H2419M2201 2364H2419" stroke="#0a0a0a" stroke-width="8.4" fill="none"/>
<polyline points="2223.2,1414.3 2223.2,1602 2249.8,1613 2251.7,1631.5 2268.2,1644.3 2270,1666.4 2242.5,1677.4 2262.7,1697.6 2246,1706.8 2238.8,1725 2244.3,1732.5 2275.5,1740 2290.2,1752.7 2356.4,1765.6 2327,1780.3 2283,1793 2299.4,1806 2253.5,1815 2237,1826 2244.3,1841 2268.2,1864.8 2299.4,1877.7 2283,1892.4 2268.2,1909 2354.6,1929 2349,1943.8 2299.4,1958.5 2303,1975 2268.2,1992 2260.9,2003 2288.4,2016.8 2277.4,2033.3 2319.7,2048 2271.9,2060.9 2314,2077.4 2273.7,2090.3 2290.3,2101.3 2395,2121.5 2308.6,2127 2240.6,2139.9 2237,2152.7 2222.3,2165.6 2223.2,2468.5" fill="none" stroke="url(#h1)" stroke-width="8" stroke-linejoin="round"/>
<text class="v" transform="translate(1818.4 1362.1) scale(0.6885 0.9356)" font-size="100" stroke="url(#gu1)" stroke-width="1.6">[</text>
<text class="v" transform="translate(2007.1 1362.1) scale(0.6942 0.9356)" font-size="100" stroke="url(#gu1)" stroke-width="1.6">]</text>
<text class="v" transform="translate(1846.5 1356.8) scale(0.7906 0.7982)" font-size="100" stroke="url(#gu1)" stroke-width="1.6">mm</text>
<text class="v" x="1820.6" y="1434.4" font-size="58.8" textLength="233.3" lengthAdjust="spacingAndGlyphs" stroke="url(#gu1)" stroke-width="1.2">0.200</text>
<text class="v" x="1820.6" y="1493.8" font-size="58.8" textLength="235.8" lengthAdjust="spacingAndGlyphs" stroke="url(#gu1)" stroke-width="1.2">0.177</text>
<text class="v" x="1820.6" y="1553.2" font-size="58.8" textLength="235" lengthAdjust="spacingAndGlyphs" stroke="url(#gu1)" stroke-width="1.2">0.155</text>
<text class="v" x="1820.6" y="1612.6" font-size="58.8" textLength="235.8" lengthAdjust="spacingAndGlyphs" stroke="url(#gu1)" stroke-width="1.2">0.133</text>
<text class="v" x="1820.6" y="1672" font-size="58.8" textLength="233.3" lengthAdjust="spacingAndGlyphs" stroke="url(#gu1)" stroke-width="1.2">0.110</text>
<text class="v" x="1820.6" y="1731.4" font-size="58.8" textLength="234.4" lengthAdjust="spacingAndGlyphs" stroke="url(#gu1)" stroke-width="1.2">0.088</text>
<text class="v" x="1820.6" y="1790.8" font-size="58.8" textLength="235" lengthAdjust="spacingAndGlyphs" stroke="url(#gu1)" stroke-width="1.2">0.065</text>
<text class="v" x="1820.6" y="1850.2" font-size="58.8" textLength="235.8" lengthAdjust="spacingAndGlyphs" stroke="url(#gu1)" stroke-width="1.2">0.043</text>
<text class="v" x="1820.6" y="1909.6" font-size="58.8" textLength="233.3" lengthAdjust="spacingAndGlyphs" stroke="url(#gu1)" stroke-width="1.2">0.020</text>
<text class="v" x="1819.9" y="2015" font-size="58.7" textLength="270.5" lengthAdjust="spacingAndGlyphs" stroke="url(#gu1)" stroke-width="1.2">-0.020</text>
<text class="v" x="1819.9" y="2074.3" font-size="58.7" textLength="273.1" lengthAdjust="spacingAndGlyphs" stroke="url(#gu1)" stroke-width="1.2">-0.043</text>
<text class="v" x="1819.9" y="2133.6" font-size="58.7" textLength="272.3" lengthAdjust="spacingAndGlyphs" stroke="url(#gu1)" stroke-width="1.2">-0.065</text>
<text class="v" x="1819.9" y="2192.9" font-size="58.7" textLength="271.7" lengthAdjust="spacingAndGlyphs" stroke="url(#gu1)" stroke-width="1.2">-0.088</text>
<text class="v" x="1819.9" y="2252.2" font-size="58.7" textLength="270.5" lengthAdjust="spacingAndGlyphs" stroke="url(#gu1)" stroke-width="1.2">-0.110</text>
<text class="v" x="1819.9" y="2311.5" font-size="58.7" textLength="273.1" lengthAdjust="spacingAndGlyphs" stroke="url(#gu1)" stroke-width="1.2">-0.133</text>
<text class="v" x="1819.9" y="2370.8" font-size="58.7" textLength="272.3" lengthAdjust="spacingAndGlyphs" stroke="url(#gu1)" stroke-width="1.2">-0.155</text>
<text class="v" x="1819.9" y="2430.1" font-size="58.7" textLength="273.1" lengthAdjust="spacingAndGlyphs" stroke="url(#gu1)" stroke-width="1.2">-0.177</text>
<text class="v" x="1819.9" y="2489.4" font-size="58.7" textLength="270.5" lengthAdjust="spacingAndGlyphs" stroke="url(#gu1)" stroke-width="1.2">-0.200</text>
<linearGradient id="h2" gradientUnits="userSpaceOnUse" x1="0" y1="2633" x2="0" y2="3789.6">
<stop offset="0.0000" stop-color="#c80000"/><stop offset="0.0493" stop-color="#c80000"/>
<stop offset="0.0540" stop-color="#ff1e00"/><stop offset="0.0999" stop-color="#ff1e00"/>
<stop offset="0.1047" stop-color="#ff4600"/><stop offset="0.1506" stop-color="#ff4600"/>
<stop offset="0.1554" stop-color="#ff6400"/><stop offset="0.2013" stop-color="#ff6400"/>
<stop offset="0.2060" stop-color="#ff8200"/><stop offset="0.2519" stop-color="#ff8200"/>
<stop offset="0.2567" stop-color="#ffa000"/><stop offset="0.3026" stop-color="#ffa000"/>
<stop offset="0.3074" stop-color="#ffc000"/><stop offset="0.3533" stop-color="#ffc000"/>
<stop offset="0.3580" stop-color="#ffe000"/><stop offset="0.4039" stop-color="#ffe000"/>
<stop offset="0.4087" stop-color="#ffff00"/><stop offset="0.4546" stop-color="#ffff00"/>
<stop offset="0.4582" stop-color="#00ff00"/><stop offset="0.5430" stop-color="#00ff00"/>
<stop offset="0.5488" stop-color="#00ffff"/><stop offset="0.5946" stop-color="#00ffff"/>
<stop offset="0.5993" stop-color="#00e0ff"/><stop offset="0.6452" stop-color="#00e0ff"/>
<stop offset="0.6499" stop-color="#00c0ff"/><stop offset="0.6957" stop-color="#00c0ff"/>
<stop offset="0.7005" stop-color="#00a0ff"/><stop offset="0.7463" stop-color="#00a0ff"/>
<stop offset="0.7511" stop-color="#0080ff"/><stop offset="0.7969" stop-color="#0080ff"/>
<stop offset="0.8017" stop-color="#0060ff"/><stop offset="0.8475" stop-color="#0060ff"/>
<stop offset="0.8522" stop-color="#0030ff"/><stop offset="0.8981" stop-color="#0030ff"/>
<stop offset="0.9028" stop-color="#0008ff"/><stop offset="0.9486" stop-color="#0008ff"/>
<stop offset="0.9534" stop-color="#000078"/><stop offset="1.0000" stop-color="#000078"/>
</linearGradient>
<rect x="2082" y="2633" width="100" height="1156.6" fill="#d6dde6"/>
<rect x="2082" y="2633" width="100" height="57" fill="#c80000"/>
<rect x="2082" y="2695.5" width="100" height="53.1" fill="#ff1e00"/>
<rect x="2082" y="2754.1" width="100" height="53.1" fill="#ff4600"/>
<rect x="2082" y="2812.7" width="100" height="53.1" fill="#ff6400"/>
<rect x="2082" y="2871.3" width="100" height="53.1" fill="#ff8200"/>
<rect x="2082" y="2929.9" width="100" height="53.1" fill="#ffa000"/>
<rect x="2082" y="2988.5" width="100" height="53.1" fill="#ffc000"/>
<rect x="2082" y="3047.1" width="100" height="53.1" fill="#ffe000"/>
<rect x="2082" y="3105.7" width="100" height="53.1" fill="#ffff00"/>
<rect x="2082" y="3163" width="100" height="98" fill="#00ff00"/>
<rect x="2082" y="3267.7" width="100" height="53" fill="#00ffff"/>
<rect x="2082" y="3326.2" width="100" height="53" fill="#00e0ff"/>
<rect x="2082" y="3384.7" width="100" height="53" fill="#00c0ff"/>
<rect x="2082" y="3443.2" width="100" height="53" fill="#00a0ff"/>
<rect x="2082" y="3501.7" width="100" height="53" fill="#0080ff"/>
<rect x="2082" y="3560.2" width="100" height="53" fill="#0060ff"/>
<rect x="2082" y="3618.7" width="100" height="53" fill="#0030ff"/>
<rect x="2082" y="3677.2" width="100" height="53" fill="#0008ff"/>
<rect x="2082" y="3735.7" width="100" height="53.9" fill="#000078"/>
<path d="M2046.5 2632.4H2405.4M2046.5 3791.8H2405.4" stroke="#0a0a0a" stroke-width="4.6" fill="none"/>
<path d="M2191 2798H2405.4M2191 2902H2405.4M2191 3006.8H2405.4M2191 3110.6H2405.4M2191 3212.6H2405.4M2191 3315.5H2405.4M2191 3418.7H2405.4M2191 3523H2405.4M2191 3627H2405.4" stroke="#0a0a0a" stroke-width="8.4" fill="none"/>
<polyline points="2211.7,2694.6 2211.2,2907.6 2242.5,2922.3 2240.6,2942.5 2270,2962.7 2266.4,2977.4 2237,2988.4 2259,3006.8 2262.7,3016 2297.6,3027 2294,3041.7 2374.8,3047.2 2354.6,3062 2290.3,3078.5 2229.6,3098.7 2233.3,3118.9 2264.5,3142.8 2283,3153.8 2317.8,3161 2319.7,3172 2308.6,3181.4 2378.5,3201.6 2336.2,3210.8 2288.4,3227.3 2365.6,3251.2 2327,3264 2260.9,3284.3 2253.5,3290 2262.7,3304 2251.7,3316.8 2253.5,3326 2330.7,3335 2336.2,3348 2288.4,3357 2290.3,3372 2283,3383 2295.8,3390.3 2266.4,3399.4 2295.8,3408.6 2260.9,3421.5 2242.5,3439.9 2213,3441.7 2214,3482 2211.2,3519 2211.6,3729.6" fill="none" stroke="url(#h2)" stroke-width="8" stroke-linejoin="round"/>
<text class="v" transform="translate(1822.1 2629.9) scale(0.6968 0.9356)" font-size="100" stroke="url(#gu2)" stroke-width="1.6">[</text>
<text class="v" transform="translate(2013 2629.9) scale(0.7025 0.9356)" font-size="100" stroke="url(#gu2)" stroke-width="1.6">]</text>
<text class="v" transform="translate(1850.4 2624.6) scale(0.8001 0.7982)" font-size="100" stroke="url(#gu2)" stroke-width="1.6">mm</text>
<text class="v" x="1814" y="2714" font-size="58" textLength="231.8" lengthAdjust="spacingAndGlyphs" stroke="url(#gu2)" stroke-width="1.2">0.200</text>
<text class="v" x="1814" y="2772.6" font-size="58" textLength="234.3" lengthAdjust="spacingAndGlyphs" stroke="url(#gu2)" stroke-width="1.2">0.177</text>
<text class="v" x="1814" y="2831.2" font-size="58" textLength="233.5" lengthAdjust="spacingAndGlyphs" stroke="url(#gu2)" stroke-width="1.2">0.155</text>
<text class="v" x="1814" y="2889.8" font-size="58" textLength="234.3" lengthAdjust="spacingAndGlyphs" stroke="url(#gu2)" stroke-width="1.2">0.133</text>
<text class="v" x="1814" y="2948.4" font-size="58" textLength="231.8" lengthAdjust="spacingAndGlyphs" stroke="url(#gu2)" stroke-width="1.2">0.110</text>
<text class="v" x="1814" y="3007" font-size="58" textLength="232.9" lengthAdjust="spacingAndGlyphs" stroke="url(#gu2)" stroke-width="1.2">0.088</text>
<text class="v" x="1814" y="3065.6" font-size="58" textLength="233.5" lengthAdjust="spacingAndGlyphs" stroke="url(#gu2)" stroke-width="1.2">0.065</text>
<text class="v" x="1814" y="3124.2" font-size="58" textLength="234.3" lengthAdjust="spacingAndGlyphs" stroke="url(#gu2)" stroke-width="1.2">0.043</text>
<text class="v" x="1814" y="3182.8" font-size="58" textLength="231.8" lengthAdjust="spacingAndGlyphs" stroke="url(#gu2)" stroke-width="1.2">0.020</text>
<text class="v" x="1813.4" y="3284" font-size="57.8" textLength="268.1" lengthAdjust="spacingAndGlyphs" stroke="url(#gu2)" stroke-width="1.2">-0.020</text>
<text class="v" x="1813.3" y="3342.4" font-size="57.8" textLength="270.7" lengthAdjust="spacingAndGlyphs" stroke="url(#gu2)" stroke-width="1.2">-0.043</text>
<text class="v" x="1813.4" y="3400.8" font-size="57.8" textLength="269.9" lengthAdjust="spacingAndGlyphs" stroke="url(#gu2)" stroke-width="1.2">-0.065</text>
<text class="v" x="1813.4" y="3459.2" font-size="57.8" textLength="269.3" lengthAdjust="spacingAndGlyphs" stroke="url(#gu2)" stroke-width="1.2">-0.088</text>
<text class="v" x="1813.4" y="3517.6" font-size="57.8" textLength="268.1" lengthAdjust="spacingAndGlyphs" stroke="url(#gu2)" stroke-width="1.2">-0.110</text>
<text class="v" x="1813.3" y="3576" font-size="57.8" textLength="270.7" lengthAdjust="spacingAndGlyphs" stroke="url(#gu2)" stroke-width="1.2">-0.133</text>
<text class="v" x="1813.4" y="3634.4" font-size="57.8" textLength="269.9" lengthAdjust="spacingAndGlyphs" stroke="url(#gu2)" stroke-width="1.2">-0.155</text>
<text class="v" x="1813.3" y="3692.8" font-size="57.8" textLength="270.7" lengthAdjust="spacingAndGlyphs" stroke="url(#gu2)" stroke-width="1.2">-0.177</text>
<text class="v" x="1813.4" y="3751.2" font-size="57.8" textLength="268.1" lengthAdjust="spacingAndGlyphs" stroke="url(#gu2)" stroke-width="1.2">-0.200</text>
</svg></body></html>
